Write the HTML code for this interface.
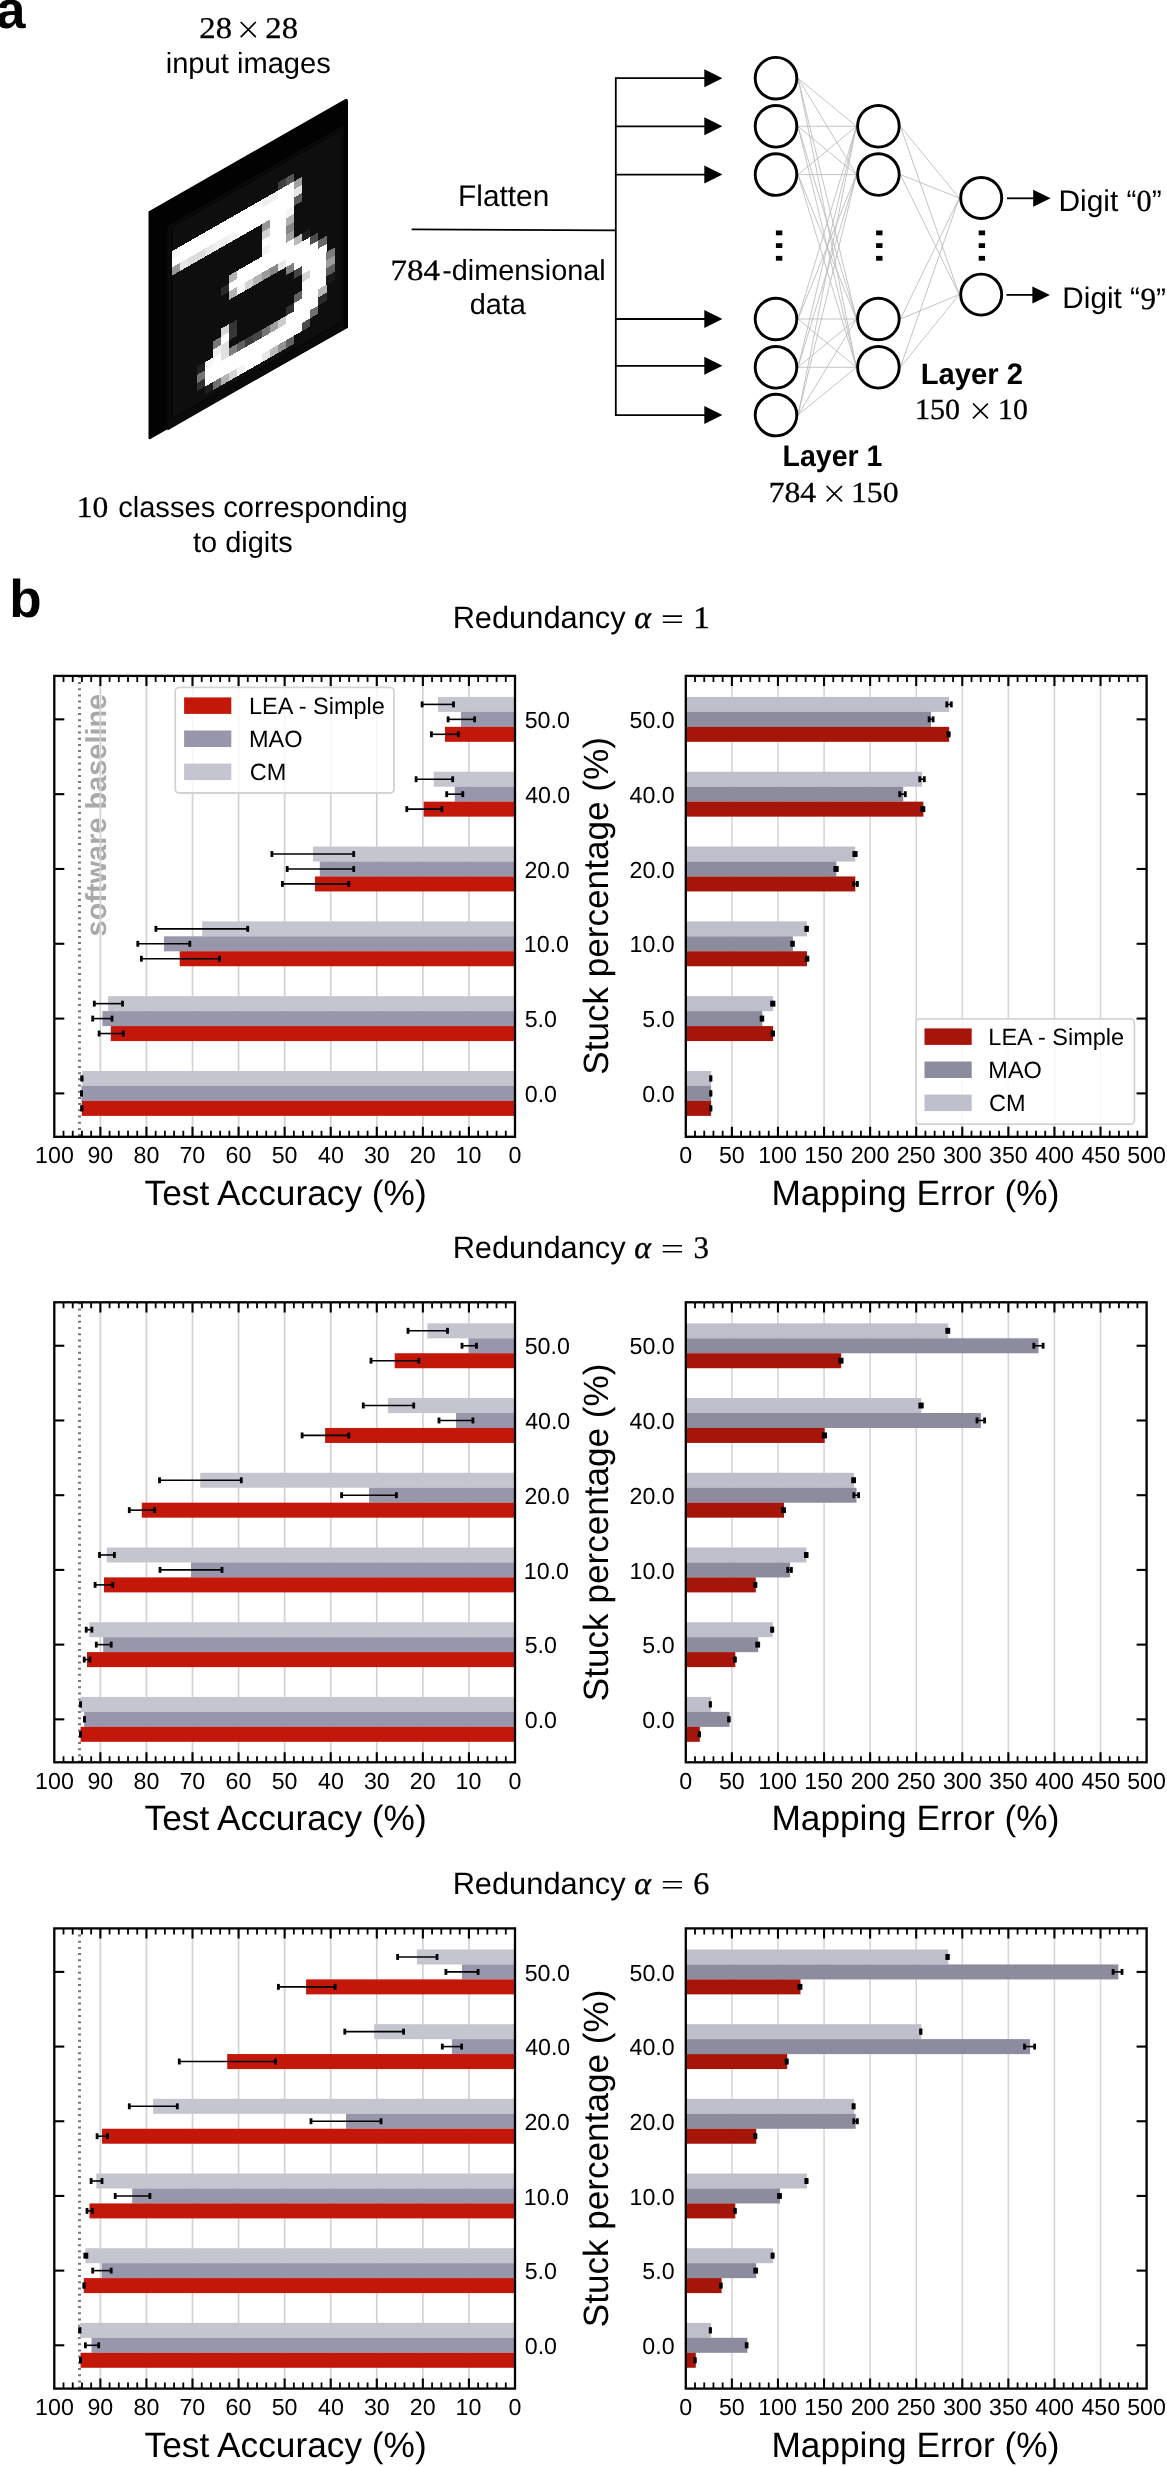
<!DOCTYPE html>
<html><head><meta charset="utf-8"><title>Figure</title>
<style>html,body{margin:0;padding:0;background:#fff}svg{display:block}text{text-rendering:geometricPrecision}</style>
</head><body>
<svg width="1167" height="2466" viewBox="0 0 1167 2466">
<rect width="1167" height="2466" fill="#fff"/>
<path d="M240.70 37.10 L255.80 22.00 M240.70 22.00 L255.80 37.10" stroke="#000" stroke-width="1.70" fill="none"/>
<path d="M973.00 418.40 L987.90 403.50 M973.00 403.50 L987.90 418.40" stroke="#000" stroke-width="1.70" fill="none"/>
<path d="M826.70 501.30 L842.00 486.00 M826.70 486.00 L842.00 501.30" stroke="#000" stroke-width="1.70" fill="none"/>
<g stroke="#000" stroke-width="1.8" fill="none">
<path d="M411.6 229.4 L615.8 230.4"/>
<path d="M615.8 77.3 V416.0"/>
<path d="M615.8 78.2 H706"/>
<path d="M615.8 126.3 H706"/>
<path d="M615.8 174.6 H706"/>
<path d="M615.8 319.0 H706"/>
<path d="M615.8 365.8 H706"/>
<path d="M615.8 415.1 H706"/>
<path d="M1007 198.3 H1035"/><path d="M1006.5 294.9 H1034"/>
</g>
<path d="M704.3 69.2 L722.4 78.2 L704.3 87.2 Z" fill="#000"/>
<path d="M704.3 117.3 L722.4 126.3 L704.3 135.3 Z" fill="#000"/>
<path d="M704.3 165.6 L722.4 174.6 L704.3 183.6 Z" fill="#000"/>
<path d="M704.3 310.0 L722.4 319.0 L704.3 328.0 Z" fill="#000"/>
<path d="M704.3 356.8 L722.4 365.8 L704.3 374.8 Z" fill="#000"/>
<path d="M704.3 406.1 L722.4 415.1 L704.3 424.1 Z" fill="#000"/>
<path d="M1033.2 189.8 L1050.6 198.3 L1033.2 206.8 Z" fill="#000"/>
<path d="M1032.4 286.4 L1049.9 294.9 L1032.4 303.4 Z" fill="#000"/>
<g stroke="#b9b9b9" stroke-width="0.85" fill="none">
<path d="M798.0 78.2 L856.4 126.3"/>
<path d="M798.0 78.2 L856.4 174.6"/>
<path d="M798.0 78.2 L856.4 319.0"/>
<path d="M798.0 78.2 L856.4 367.3"/>
<path d="M798.0 126.3 L856.4 126.3"/>
<path d="M798.0 126.3 L856.4 174.6"/>
<path d="M798.0 126.3 L856.4 319.0"/>
<path d="M798.0 126.3 L856.4 367.3"/>
<path d="M798.0 174.6 L856.4 126.3"/>
<path d="M798.0 174.6 L856.4 174.6"/>
<path d="M798.0 174.6 L856.4 319.0"/>
<path d="M798.0 174.6 L856.4 367.3"/>
<path d="M798.0 319.0 L856.4 126.3"/>
<path d="M798.0 319.0 L856.4 174.6"/>
<path d="M798.0 319.0 L856.4 319.0"/>
<path d="M798.0 319.0 L856.4 367.3"/>
<path d="M798.0 367.3 L856.4 126.3"/>
<path d="M798.0 367.3 L856.4 174.6"/>
<path d="M798.0 367.3 L856.4 319.0"/>
<path d="M798.0 367.3 L856.4 367.3"/>
<path d="M798.0 415.1 L856.4 126.3"/>
<path d="M798.0 415.1 L856.4 174.6"/>
<path d="M798.0 415.1 L856.4 319.0"/>
<path d="M798.0 415.1 L856.4 367.3"/>
<path d="M900.4 126.3 L959.2 198.0"/>
<path d="M900.4 126.3 L959.2 294.6"/>
<path d="M900.4 174.6 L959.2 198.0"/>
<path d="M900.4 174.6 L959.2 294.6"/>
<path d="M900.4 319.0 L959.2 198.0"/>
<path d="M900.4 319.0 L959.2 294.6"/>
<path d="M900.4 367.3 L959.2 198.0"/>
<path d="M900.4 367.3 L959.2 294.6"/>
</g>
<g stroke="#000" stroke-width="2.9" fill="#fff">
<circle cx="776.0" cy="78.2" r="20.8"/>
<circle cx="776.0" cy="126.3" r="20.8"/>
<circle cx="776.0" cy="174.6" r="20.8"/>
<circle cx="776.0" cy="319.0" r="20.8"/>
<circle cx="776.0" cy="367.3" r="20.8"/>
<circle cx="776.0" cy="415.1" r="20.8"/>
<circle cx="878.4" cy="126.3" r="20.8"/>
<circle cx="878.4" cy="174.6" r="20.8"/>
<circle cx="878.4" cy="319.0" r="20.8"/>
<circle cx="878.4" cy="367.3" r="20.8"/>
<circle cx="981.2" cy="198.0" r="20.5"/>
<circle cx="981.2" cy="294.6" r="20.5"/>
</g>
<rect x="775.9" y="230.5" width="6.4" height="4.8" fill="#000"/>
<rect x="775.9" y="243.2" width="6.4" height="4.8" fill="#000"/>
<rect x="775.9" y="255.9" width="6.4" height="4.8" fill="#000"/>
<rect x="876.1" y="230.5" width="6.4" height="4.8" fill="#000"/>
<rect x="876.1" y="243.2" width="6.4" height="4.8" fill="#000"/>
<rect x="876.1" y="255.9" width="6.4" height="4.8" fill="#000"/>
<rect x="978.7" y="230.5" width="6.4" height="4.8" fill="#000"/>
<rect x="978.7" y="243.2" width="6.4" height="4.8" fill="#000"/>
<rect x="978.7" y="255.9" width="6.4" height="4.8" fill="#000"/>
<path d="M148.5 211.6 L345.0 99.2 Q348.0 97.5 348.0 101.5 L348.0 327.8 L152.5 437.7 Q148.5 440.9 148.5 437.9 Z" fill="#020202"/>
<path d="M167.5 226.0 L343.5 125.3 L343.5 329.8 L167.5 430.5 Z" fill="#0a0a0a"/>
<path d="M172.2 226.7 L341.8 129.7 L341.8 321.7 L172.2 418.7 Z" fill="#0e0e0e" stroke="#050505" stroke-width="1"/>
<g transform="matrix(1 -0.5720 0 1 172.20 226.70)" shape-rendering="crispEdges">
<rect x="105.56" y="16.24" width="8.17" height="8.17" fill="rgb(63,63,63)"/>
<rect x="113.68" y="16.24" width="8.17" height="8.17" fill="rgb(87,87,87)"/>
<rect x="0.00" y="24.36" width="8.17" height="8.17" fill="rgb(245,245,245)"/>
<rect x="8.12" y="24.36" width="8.17" height="8.17" fill="rgb(255,255,255)"/>
<rect x="16.24" y="24.36" width="8.17" height="8.17" fill="rgb(255,255,255)"/>
<rect x="24.36" y="24.36" width="8.17" height="8.17" fill="rgb(255,255,255)"/>
<rect x="32.48" y="24.36" width="8.17" height="8.17" fill="rgb(255,255,255)"/>
<rect x="40.60" y="24.36" width="8.17" height="8.17" fill="rgb(255,255,255)"/>
<rect x="48.72" y="24.36" width="8.17" height="8.17" fill="rgb(255,255,255)"/>
<rect x="56.84" y="24.36" width="8.17" height="8.17" fill="rgb(255,255,255)"/>
<rect x="64.96" y="24.36" width="8.17" height="8.17" fill="rgb(255,255,255)"/>
<rect x="73.08" y="24.36" width="8.17" height="8.17" fill="rgb(255,255,255)"/>
<rect x="81.20" y="24.36" width="8.17" height="8.17" fill="rgb(255,255,255)"/>
<rect x="89.32" y="24.36" width="8.17" height="8.17" fill="rgb(239,239,239)"/>
<rect x="97.44" y="24.36" width="8.17" height="8.17" fill="rgb(240,240,240)"/>
<rect x="105.56" y="24.36" width="8.17" height="8.17" fill="rgb(255,255,255)"/>
<rect x="113.68" y="24.36" width="8.17" height="8.17" fill="rgb(255,255,255)"/>
<rect x="121.80" y="24.36" width="8.17" height="8.17" fill="rgb(160,160,160)"/>
<rect x="0.00" y="32.48" width="8.17" height="8.17" fill="rgb(255,255,255)"/>
<rect x="8.12" y="32.48" width="8.17" height="8.17" fill="rgb(255,255,255)"/>
<rect x="16.24" y="32.48" width="8.17" height="8.17" fill="rgb(255,255,255)"/>
<rect x="24.36" y="32.48" width="8.17" height="8.17" fill="rgb(255,255,255)"/>
<rect x="32.48" y="32.48" width="8.17" height="8.17" fill="rgb(255,255,255)"/>
<rect x="40.60" y="32.48" width="8.17" height="8.17" fill="rgb(255,255,255)"/>
<rect x="48.72" y="32.48" width="8.17" height="8.17" fill="rgb(255,255,255)"/>
<rect x="56.84" y="32.48" width="8.17" height="8.17" fill="rgb(255,255,255)"/>
<rect x="64.96" y="32.48" width="8.17" height="8.17" fill="rgb(255,255,255)"/>
<rect x="73.08" y="32.48" width="8.17" height="8.17" fill="rgb(255,255,255)"/>
<rect x="81.20" y="32.48" width="8.17" height="8.17" fill="rgb(255,255,255)"/>
<rect x="89.32" y="32.48" width="8.17" height="8.17" fill="rgb(255,255,255)"/>
<rect x="97.44" y="32.48" width="8.17" height="8.17" fill="rgb(255,255,255)"/>
<rect x="105.56" y="32.48" width="8.17" height="8.17" fill="rgb(255,255,255)"/>
<rect x="113.68" y="32.48" width="8.17" height="8.17" fill="rgb(255,255,255)"/>
<rect x="121.80" y="32.48" width="8.17" height="8.17" fill="rgb(230,230,230)"/>
<rect x="0.00" y="40.60" width="8.17" height="8.17" fill="rgb(153,153,153)"/>
<rect x="8.12" y="40.60" width="8.17" height="8.17" fill="rgb(230,230,230)"/>
<rect x="16.24" y="40.60" width="8.17" height="8.17" fill="rgb(220,220,220)"/>
<rect x="24.36" y="40.60" width="8.17" height="8.17" fill="rgb(220,220,220)"/>
<rect x="32.48" y="40.60" width="8.17" height="8.17" fill="rgb(231,231,231)"/>
<rect x="40.60" y="40.60" width="8.17" height="8.17" fill="rgb(239,239,239)"/>
<rect x="48.72" y="40.60" width="8.17" height="8.17" fill="rgb(239,239,239)"/>
<rect x="56.84" y="40.60" width="8.17" height="8.17" fill="rgb(245,245,245)"/>
<rect x="64.96" y="40.60" width="8.17" height="8.17" fill="rgb(255,255,255)"/>
<rect x="73.08" y="40.60" width="8.17" height="8.17" fill="rgb(255,255,255)"/>
<rect x="81.20" y="40.60" width="8.17" height="8.17" fill="rgb(255,255,255)"/>
<rect x="89.32" y="40.60" width="8.17" height="8.17" fill="rgb(255,255,255)"/>
<rect x="97.44" y="40.60" width="8.17" height="8.17" fill="rgb(255,255,255)"/>
<rect x="105.56" y="40.60" width="8.17" height="8.17" fill="rgb(255,255,255)"/>
<rect x="113.68" y="40.60" width="8.17" height="8.17" fill="rgb(255,255,255)"/>
<rect x="121.80" y="40.60" width="8.17" height="8.17" fill="rgb(93,93,93)"/>
<rect x="89.32" y="48.72" width="8.17" height="8.17" fill="rgb(149,149,149)"/>
<rect x="97.44" y="48.72" width="8.17" height="8.17" fill="rgb(255,255,255)"/>
<rect x="105.56" y="48.72" width="8.17" height="8.17" fill="rgb(255,255,255)"/>
<rect x="113.68" y="48.72" width="8.17" height="8.17" fill="rgb(245,245,245)"/>
<rect x="89.32" y="56.84" width="8.17" height="8.17" fill="rgb(212,212,212)"/>
<rect x="97.44" y="56.84" width="8.17" height="8.17" fill="rgb(255,255,255)"/>
<rect x="105.56" y="56.84" width="8.17" height="8.17" fill="rgb(255,255,255)"/>
<rect x="113.68" y="56.84" width="8.17" height="8.17" fill="rgb(175,175,175)"/>
<rect x="89.32" y="64.96" width="8.17" height="8.17" fill="rgb(252,252,252)"/>
<rect x="97.44" y="64.96" width="8.17" height="8.17" fill="rgb(255,255,255)"/>
<rect x="105.56" y="64.96" width="8.17" height="8.17" fill="rgb(255,255,255)"/>
<rect x="113.68" y="64.96" width="8.17" height="8.17" fill="rgb(133,133,133)"/>
<rect x="89.32" y="73.08" width="8.17" height="8.17" fill="rgb(243,243,243)"/>
<rect x="97.44" y="73.08" width="8.17" height="8.17" fill="rgb(255,255,255)"/>
<rect x="105.56" y="73.08" width="8.17" height="8.17" fill="rgb(255,255,255)"/>
<rect x="113.68" y="73.08" width="8.17" height="8.17" fill="rgb(159,159,159)"/>
<rect x="56.84" y="81.20" width="8.17" height="8.17" fill="rgb(179,179,179)"/>
<rect x="64.96" y="81.20" width="8.17" height="8.17" fill="rgb(255,255,255)"/>
<rect x="73.08" y="81.20" width="8.17" height="8.17" fill="rgb(255,255,255)"/>
<rect x="81.20" y="81.20" width="8.17" height="8.17" fill="rgb(255,255,255)"/>
<rect x="89.32" y="81.20" width="8.17" height="8.17" fill="rgb(255,255,255)"/>
<rect x="97.44" y="81.20" width="8.17" height="8.17" fill="rgb(255,255,255)"/>
<rect x="105.56" y="81.20" width="8.17" height="8.17" fill="rgb(255,255,255)"/>
<rect x="113.68" y="81.20" width="8.17" height="8.17" fill="rgb(255,255,255)"/>
<rect x="121.80" y="81.20" width="8.17" height="8.17" fill="rgb(187,187,187)"/>
<rect x="129.92" y="81.20" width="8.17" height="8.17" fill="rgb(30,30,30)"/>
<rect x="48.72" y="89.32" width="8.17" height="8.17" fill="rgb(42,42,42)"/>
<rect x="56.84" y="89.32" width="8.17" height="8.17" fill="rgb(255,255,255)"/>
<rect x="64.96" y="89.32" width="8.17" height="8.17" fill="rgb(255,255,255)"/>
<rect x="73.08" y="89.32" width="8.17" height="8.17" fill="rgb(255,255,255)"/>
<rect x="81.20" y="89.32" width="8.17" height="8.17" fill="rgb(255,255,255)"/>
<rect x="89.32" y="89.32" width="8.17" height="8.17" fill="rgb(255,255,255)"/>
<rect x="97.44" y="89.32" width="8.17" height="8.17" fill="rgb(255,255,255)"/>
<rect x="105.56" y="89.32" width="8.17" height="8.17" fill="rgb(255,255,255)"/>
<rect x="113.68" y="89.32" width="8.17" height="8.17" fill="rgb(255,255,255)"/>
<rect x="121.80" y="89.32" width="8.17" height="8.17" fill="rgb(255,255,255)"/>
<rect x="129.92" y="89.32" width="8.17" height="8.17" fill="rgb(255,255,255)"/>
<rect x="138.04" y="89.32" width="8.17" height="8.17" fill="rgb(77,77,77)"/>
<rect x="56.84" y="97.44" width="8.17" height="8.17" fill="rgb(179,179,179)"/>
<rect x="64.96" y="97.44" width="8.17" height="8.17" fill="rgb(249,249,249)"/>
<rect x="73.08" y="97.44" width="8.17" height="8.17" fill="rgb(212,212,212)"/>
<rect x="81.20" y="97.44" width="8.17" height="8.17" fill="rgb(181,181,181)"/>
<rect x="89.32" y="97.44" width="8.17" height="8.17" fill="rgb(153,153,153)"/>
<rect x="97.44" y="97.44" width="8.17" height="8.17" fill="rgb(135,135,135)"/>
<rect x="105.56" y="97.44" width="8.17" height="8.17" fill="rgb(233,233,233)"/>
<rect x="113.68" y="97.44" width="8.17" height="8.17" fill="rgb(255,255,255)"/>
<rect x="121.80" y="97.44" width="8.17" height="8.17" fill="rgb(255,255,255)"/>
<rect x="129.92" y="97.44" width="8.17" height="8.17" fill="rgb(255,255,255)"/>
<rect x="138.04" y="97.44" width="8.17" height="8.17" fill="rgb(255,255,255)"/>
<rect x="146.16" y="97.44" width="8.17" height="8.17" fill="rgb(104,104,104)"/>
<rect x="113.68" y="105.56" width="8.17" height="8.17" fill="rgb(127,127,127)"/>
<rect x="121.80" y="105.56" width="8.17" height="8.17" fill="rgb(255,255,255)"/>
<rect x="129.92" y="105.56" width="8.17" height="8.17" fill="rgb(255,255,255)"/>
<rect x="138.04" y="105.56" width="8.17" height="8.17" fill="rgb(255,255,255)"/>
<rect x="146.16" y="105.56" width="8.17" height="8.17" fill="rgb(255,255,255)"/>
<rect x="121.80" y="113.68" width="8.17" height="8.17" fill="rgb(68,68,68)"/>
<rect x="129.92" y="113.68" width="8.17" height="8.17" fill="rgb(255,255,255)"/>
<rect x="138.04" y="113.68" width="8.17" height="8.17" fill="rgb(255,255,255)"/>
<rect x="146.16" y="113.68" width="8.17" height="8.17" fill="rgb(255,255,255)"/>
<rect x="154.28" y="113.68" width="8.17" height="8.17" fill="rgb(123,123,123)"/>
<rect x="129.92" y="121.80" width="8.17" height="8.17" fill="rgb(211,211,211)"/>
<rect x="138.04" y="121.80" width="8.17" height="8.17" fill="rgb(255,255,255)"/>
<rect x="146.16" y="121.80" width="8.17" height="8.17" fill="rgb(255,255,255)"/>
<rect x="154.28" y="121.80" width="8.17" height="8.17" fill="rgb(156,156,156)"/>
<rect x="48.72" y="129.92" width="8.17" height="8.17" fill="rgb(216,216,216)"/>
<rect x="56.84" y="129.92" width="8.17" height="8.17" fill="rgb(52,52,52)"/>
<rect x="129.92" y="129.92" width="8.17" height="8.17" fill="rgb(255,255,255)"/>
<rect x="138.04" y="129.92" width="8.17" height="8.17" fill="rgb(255,255,255)"/>
<rect x="146.16" y="129.92" width="8.17" height="8.17" fill="rgb(255,255,255)"/>
<rect x="154.28" y="129.92" width="8.17" height="8.17" fill="rgb(94,94,94)"/>
<rect x="40.60" y="138.04" width="8.17" height="8.17" fill="rgb(120,120,120)"/>
<rect x="48.72" y="138.04" width="8.17" height="8.17" fill="rgb(255,255,255)"/>
<rect x="56.84" y="138.04" width="8.17" height="8.17" fill="rgb(55,55,55)"/>
<rect x="121.80" y="138.04" width="8.17" height="8.17" fill="rgb(99,99,99)"/>
<rect x="129.92" y="138.04" width="8.17" height="8.17" fill="rgb(255,255,255)"/>
<rect x="138.04" y="138.04" width="8.17" height="8.17" fill="rgb(255,255,255)"/>
<rect x="146.16" y="138.04" width="8.17" height="8.17" fill="rgb(255,255,255)"/>
<rect x="154.28" y="138.04" width="8.17" height="8.17" fill="rgb(25,25,25)"/>
<rect x="40.60" y="146.16" width="8.17" height="8.17" fill="rgb(240,240,240)"/>
<rect x="48.72" y="146.16" width="8.17" height="8.17" fill="rgb(223,223,223)"/>
<rect x="113.68" y="146.16" width="8.17" height="8.17" fill="rgb(49,49,49)"/>
<rect x="121.80" y="146.16" width="8.17" height="8.17" fill="rgb(255,255,255)"/>
<rect x="129.92" y="146.16" width="8.17" height="8.17" fill="rgb(255,255,255)"/>
<rect x="138.04" y="146.16" width="8.17" height="8.17" fill="rgb(255,255,255)"/>
<rect x="146.16" y="146.16" width="8.17" height="8.17" fill="rgb(182,182,182)"/>
<rect x="24.36" y="154.28" width="8.17" height="8.17" fill="rgb(31,31,31)"/>
<rect x="32.48" y="154.28" width="8.17" height="8.17" fill="rgb(247,247,247)"/>
<rect x="40.60" y="154.28" width="8.17" height="8.17" fill="rgb(255,255,255)"/>
<rect x="48.72" y="154.28" width="8.17" height="8.17" fill="rgb(226,226,226)"/>
<rect x="56.84" y="154.28" width="8.17" height="8.17" fill="rgb(126,126,126)"/>
<rect x="64.96" y="154.28" width="8.17" height="8.17" fill="rgb(96,96,96)"/>
<rect x="73.08" y="154.28" width="8.17" height="8.17" fill="rgb(62,62,62)"/>
<rect x="81.20" y="154.28" width="8.17" height="8.17" fill="rgb(71,71,71)"/>
<rect x="89.32" y="154.28" width="8.17" height="8.17" fill="rgb(117,117,117)"/>
<rect x="97.44" y="154.28" width="8.17" height="8.17" fill="rgb(161,161,161)"/>
<rect x="105.56" y="154.28" width="8.17" height="8.17" fill="rgb(204,204,204)"/>
<rect x="113.68" y="154.28" width="8.17" height="8.17" fill="rgb(255,255,255)"/>
<rect x="121.80" y="154.28" width="8.17" height="8.17" fill="rgb(255,255,255)"/>
<rect x="129.92" y="154.28" width="8.17" height="8.17" fill="rgb(255,255,255)"/>
<rect x="138.04" y="154.28" width="8.17" height="8.17" fill="rgb(255,255,255)"/>
<rect x="146.16" y="154.28" width="8.17" height="8.17" fill="rgb(43,43,43)"/>
<rect x="24.36" y="162.40" width="8.17" height="8.17" fill="rgb(117,117,117)"/>
<rect x="32.48" y="162.40" width="8.17" height="8.17" fill="rgb(255,255,255)"/>
<rect x="40.60" y="162.40" width="8.17" height="8.17" fill="rgb(255,255,255)"/>
<rect x="48.72" y="162.40" width="8.17" height="8.17" fill="rgb(255,255,255)"/>
<rect x="56.84" y="162.40" width="8.17" height="8.17" fill="rgb(255,255,255)"/>
<rect x="64.96" y="162.40" width="8.17" height="8.17" fill="rgb(255,255,255)"/>
<rect x="73.08" y="162.40" width="8.17" height="8.17" fill="rgb(255,255,255)"/>
<rect x="81.20" y="162.40" width="8.17" height="8.17" fill="rgb(255,255,255)"/>
<rect x="89.32" y="162.40" width="8.17" height="8.17" fill="rgb(255,255,255)"/>
<rect x="97.44" y="162.40" width="8.17" height="8.17" fill="rgb(255,255,255)"/>
<rect x="105.56" y="162.40" width="8.17" height="8.17" fill="rgb(255,255,255)"/>
<rect x="113.68" y="162.40" width="8.17" height="8.17" fill="rgb(255,255,255)"/>
<rect x="121.80" y="162.40" width="8.17" height="8.17" fill="rgb(255,255,255)"/>
<rect x="129.92" y="162.40" width="8.17" height="8.17" fill="rgb(255,255,255)"/>
<rect x="138.04" y="162.40" width="8.17" height="8.17" fill="rgb(110,110,110)"/>
<rect x="24.36" y="170.52" width="8.17" height="8.17" fill="rgb(48,48,48)"/>
<rect x="32.48" y="170.52" width="8.17" height="8.17" fill="rgb(255,255,255)"/>
<rect x="40.60" y="170.52" width="8.17" height="8.17" fill="rgb(255,255,255)"/>
<rect x="48.72" y="170.52" width="8.17" height="8.17" fill="rgb(255,255,255)"/>
<rect x="56.84" y="170.52" width="8.17" height="8.17" fill="rgb(255,255,255)"/>
<rect x="64.96" y="170.52" width="8.17" height="8.17" fill="rgb(255,255,255)"/>
<rect x="73.08" y="170.52" width="8.17" height="8.17" fill="rgb(255,255,255)"/>
<rect x="81.20" y="170.52" width="8.17" height="8.17" fill="rgb(255,255,255)"/>
<rect x="89.32" y="170.52" width="8.17" height="8.17" fill="rgb(255,255,255)"/>
<rect x="97.44" y="170.52" width="8.17" height="8.17" fill="rgb(255,255,255)"/>
<rect x="105.56" y="170.52" width="8.17" height="8.17" fill="rgb(255,255,255)"/>
<rect x="113.68" y="170.52" width="8.17" height="8.17" fill="rgb(255,255,255)"/>
<rect x="121.80" y="170.52" width="8.17" height="8.17" fill="rgb(255,255,255)"/>
<rect x="129.92" y="170.52" width="8.17" height="8.17" fill="rgb(75,75,75)"/>
<rect x="32.48" y="178.64" width="8.17" height="8.17" fill="rgb(29,29,29)"/>
<rect x="40.60" y="178.64" width="8.17" height="8.17" fill="rgb(113,113,113)"/>
<rect x="48.72" y="178.64" width="8.17" height="8.17" fill="rgb(179,179,179)"/>
<rect x="56.84" y="178.64" width="8.17" height="8.17" fill="rgb(212,212,212)"/>
<rect x="64.96" y="178.64" width="8.17" height="8.17" fill="rgb(244,244,244)"/>
<rect x="73.08" y="178.64" width="8.17" height="8.17" fill="rgb(255,255,255)"/>
<rect x="81.20" y="178.64" width="8.17" height="8.17" fill="rgb(255,255,255)"/>
<rect x="89.32" y="178.64" width="8.17" height="8.17" fill="rgb(231,231,231)"/>
<rect x="97.44" y="178.64" width="8.17" height="8.17" fill="rgb(186,186,186)"/>
<rect x="105.56" y="178.64" width="8.17" height="8.17" fill="rgb(145,145,145)"/>
<rect x="113.68" y="178.64" width="8.17" height="8.17" fill="rgb(99,99,99)"/>
</g>
<path d="M662.8 616.10 H682 M662.8 622.20 H682" stroke="#000" stroke-width="1.6" fill="none"/>
<path d="M662.8 1245.70 H682 M662.8 1251.80 H682" stroke="#000" stroke-width="1.6" fill="none"/>
<path d="M662.8 1881.70 H682 M662.8 1887.80 H682" stroke="#000" stroke-width="1.6" fill="none"/>
<g style="filter:grayscale(1)"><text transform="translate(106.00 936.41) rotate(-90)" font-family='"Liberation Sans", sans-serif' font-weight="bold" font-size="28.92" fill="#a9a9a9">software baseline</text></g>
<g stroke="#d2d2d2" stroke-width="1.7">
<path d="M100.37 675.9 V1136.8"/>
<path d="M146.44 675.9 V1136.8"/>
<path d="M192.51 675.9 V1136.8"/>
<path d="M238.58 675.9 V1136.8"/>
<path d="M284.65 675.9 V1136.8"/>
<path d="M330.72 675.9 V1136.8"/>
<path d="M376.79 675.9 V1136.8"/>
<path d="M422.86 675.9 V1136.8"/>
<path d="M468.93 675.9 V1136.8"/>
</g>
<path d="M79.5 675.80 V1136.8" stroke="#7a7a7a" stroke-width="3" stroke-dasharray="2 4.193"/>
<rect x="438.0" y="696.93" width="77.0" height="15.00" fill="#c5c5d0"/>
<rect x="461.0" y="711.88" width="54.0" height="15.00" fill="#9896aa"/>
<rect x="445.0" y="726.83" width="70.0" height="15.00" fill="#c3170a"/>
<rect x="433.8" y="771.74" width="81.2" height="15.00" fill="#c5c5d0"/>
<rect x="454.8" y="786.69" width="60.2" height="15.00" fill="#9896aa"/>
<rect x="423.7" y="801.64" width="91.3" height="15.00" fill="#c3170a"/>
<rect x="313.0" y="846.55" width="202.0" height="15.00" fill="#c5c5d0"/>
<rect x="319.8" y="861.50" width="195.2" height="15.00" fill="#9896aa"/>
<rect x="315.0" y="876.45" width="200.0" height="15.00" fill="#c3170a"/>
<rect x="202.2" y="921.36" width="312.8" height="15.00" fill="#c5c5d0"/>
<rect x="164.0" y="936.31" width="351.0" height="15.00" fill="#9896aa"/>
<rect x="179.7" y="951.25" width="335.3" height="15.00" fill="#c3170a"/>
<rect x="108.0" y="996.17" width="407.0" height="15.00" fill="#c5c5d0"/>
<rect x="102.4" y="1011.12" width="412.6" height="15.00" fill="#9896aa"/>
<rect x="110.8" y="1026.07" width="404.2" height="15.00" fill="#c3170a"/>
<rect x="82.2" y="1070.98" width="432.8" height="15.00" fill="#c5c5d0"/>
<rect x="81.4" y="1085.93" width="433.6" height="15.00" fill="#9896aa"/>
<rect x="81.8" y="1100.88" width="433.2" height="15.00" fill="#c3170a"/>
<path d="M422.10 704.40 H453.50" stroke="#000" stroke-width="1.6"/>
<rect x="420.70" y="701.45" width="2.80" height="5.9" fill="#000"/>
<rect x="452.10" y="701.45" width="2.80" height="5.9" fill="#000"/>
<path d="M448.10 719.35 H474.60" stroke="#000" stroke-width="1.6"/>
<rect x="446.70" y="716.40" width="2.80" height="5.9" fill="#000"/>
<rect x="473.20" y="716.40" width="2.80" height="5.9" fill="#000"/>
<path d="M431.40 734.30 H458.40" stroke="#000" stroke-width="1.6"/>
<rect x="430.00" y="731.35" width="2.80" height="5.9" fill="#000"/>
<rect x="457.00" y="731.35" width="2.80" height="5.9" fill="#000"/>
<path d="M416.10 779.21 H452.70" stroke="#000" stroke-width="1.6"/>
<rect x="414.70" y="776.26" width="2.80" height="5.9" fill="#000"/>
<rect x="451.30" y="776.26" width="2.80" height="5.9" fill="#000"/>
<path d="M446.70 794.16 H462.80" stroke="#000" stroke-width="1.6"/>
<rect x="445.30" y="791.21" width="2.80" height="5.9" fill="#000"/>
<rect x="461.40" y="791.21" width="2.80" height="5.9" fill="#000"/>
<path d="M406.80 809.11 H441.90" stroke="#000" stroke-width="1.6"/>
<rect x="405.40" y="806.16" width="2.80" height="5.9" fill="#000"/>
<rect x="440.50" y="806.16" width="2.80" height="5.9" fill="#000"/>
<path d="M271.90 854.02 H353.70" stroke="#000" stroke-width="1.6"/>
<rect x="270.50" y="851.07" width="2.80" height="5.9" fill="#000"/>
<rect x="352.30" y="851.07" width="2.80" height="5.9" fill="#000"/>
<path d="M287.20 868.97 H353.70" stroke="#000" stroke-width="1.6"/>
<rect x="285.80" y="866.02" width="2.80" height="5.9" fill="#000"/>
<rect x="352.30" y="866.02" width="2.80" height="5.9" fill="#000"/>
<path d="M282.40 883.92 H348.80" stroke="#000" stroke-width="1.6"/>
<rect x="281.00" y="880.97" width="2.80" height="5.9" fill="#000"/>
<rect x="347.40" y="880.97" width="2.80" height="5.9" fill="#000"/>
<path d="M155.90 928.83 H247.70" stroke="#000" stroke-width="1.6"/>
<rect x="154.50" y="925.88" width="2.80" height="5.9" fill="#000"/>
<rect x="246.30" y="925.88" width="2.80" height="5.9" fill="#000"/>
<path d="M137.80 943.78 H189.80" stroke="#000" stroke-width="1.6"/>
<rect x="136.40" y="940.83" width="2.80" height="5.9" fill="#000"/>
<rect x="188.40" y="940.83" width="2.80" height="5.9" fill="#000"/>
<path d="M141.40 958.73 H219.60" stroke="#000" stroke-width="1.6"/>
<rect x="140.00" y="955.78" width="2.80" height="5.9" fill="#000"/>
<rect x="218.20" y="955.78" width="2.80" height="5.9" fill="#000"/>
<path d="M94.30 1003.64 H122.50" stroke="#000" stroke-width="1.6"/>
<rect x="92.90" y="1000.69" width="2.80" height="5.9" fill="#000"/>
<rect x="121.10" y="1000.69" width="2.80" height="5.9" fill="#000"/>
<path d="M92.70 1018.59 H112.00" stroke="#000" stroke-width="1.6"/>
<rect x="91.30" y="1015.64" width="2.80" height="5.9" fill="#000"/>
<rect x="110.60" y="1015.64" width="2.80" height="5.9" fill="#000"/>
<path d="M99.10 1033.54 H123.30" stroke="#000" stroke-width="1.6"/>
<rect x="97.70" y="1030.59" width="2.80" height="5.9" fill="#000"/>
<rect x="121.90" y="1030.59" width="2.80" height="5.9" fill="#000"/>
<path d="M81.90 1078.45 H81.90" stroke="#000" stroke-width="1.6"/>
<rect x="80.50" y="1075.50" width="2.80" height="5.9" fill="#000"/>
<rect x="80.50" y="1075.50" width="2.80" height="5.9" fill="#000"/>
<path d="M81.50 1093.40 H81.50" stroke="#000" stroke-width="1.6"/>
<rect x="80.10" y="1090.45" width="2.80" height="5.9" fill="#000"/>
<rect x="80.10" y="1090.45" width="2.80" height="5.9" fill="#000"/>
<path d="M81.80 1108.35 H81.80" stroke="#000" stroke-width="1.6"/>
<rect x="80.40" y="1105.40" width="2.80" height="5.9" fill="#000"/>
<rect x="80.40" y="1105.40" width="2.80" height="5.9" fill="#000"/>
<rect x="175.2" y="687.4" width="218.8" height="105.6" rx="4" ry="4" fill="#fff" fill-opacity="0.82" stroke="#d3d3d3" stroke-width="1.8"/>
<rect x="184.1" y="697.4" width="47.2" height="16.5" fill="#c3170a"/>
<rect x="184.1" y="730.5" width="47.2" height="16.5" fill="#9896aa"/>
<rect x="184.1" y="763.6" width="47.2" height="16.5" fill="#c5c5d0"/>
<g stroke="#000" fill="none">
<path d="M63.51 675.9 v6.0 M63.51 1136.8 v-6.0" stroke-width="1.8"/>
<path d="M72.73 675.9 v6.0 M72.73 1136.8 v-6.0" stroke-width="1.8"/>
<path d="M81.94 675.9 v6.0 M81.94 1136.8 v-6.0" stroke-width="1.8"/>
<path d="M91.16 675.9 v6.0 M91.16 1136.8 v-6.0" stroke-width="1.8"/>
<path d="M100.37 675.9 v10.1 M100.37 1136.8 v-10.1" stroke-width="2.1"/>
<path d="M109.58 675.9 v6.0 M109.58 1136.8 v-6.0" stroke-width="1.8"/>
<path d="M118.80 675.9 v6.0 M118.80 1136.8 v-6.0" stroke-width="1.8"/>
<path d="M128.01 675.9 v6.0 M128.01 1136.8 v-6.0" stroke-width="1.8"/>
<path d="M137.23 675.9 v6.0 M137.23 1136.8 v-6.0" stroke-width="1.8"/>
<path d="M146.44 675.9 v10.1 M146.44 1136.8 v-10.1" stroke-width="2.1"/>
<path d="M155.65 675.9 v6.0 M155.65 1136.8 v-6.0" stroke-width="1.8"/>
<path d="M164.87 675.9 v6.0 M164.87 1136.8 v-6.0" stroke-width="1.8"/>
<path d="M174.08 675.9 v6.0 M174.08 1136.8 v-6.0" stroke-width="1.8"/>
<path d="M183.30 675.9 v6.0 M183.30 1136.8 v-6.0" stroke-width="1.8"/>
<path d="M192.51 675.9 v10.1 M192.51 1136.8 v-10.1" stroke-width="2.1"/>
<path d="M201.72 675.9 v6.0 M201.72 1136.8 v-6.0" stroke-width="1.8"/>
<path d="M210.94 675.9 v6.0 M210.94 1136.8 v-6.0" stroke-width="1.8"/>
<path d="M220.15 675.9 v6.0 M220.15 1136.8 v-6.0" stroke-width="1.8"/>
<path d="M229.37 675.9 v6.0 M229.37 1136.8 v-6.0" stroke-width="1.8"/>
<path d="M238.58 675.9 v10.1 M238.58 1136.8 v-10.1" stroke-width="2.1"/>
<path d="M247.79 675.9 v6.0 M247.79 1136.8 v-6.0" stroke-width="1.8"/>
<path d="M257.01 675.9 v6.0 M257.01 1136.8 v-6.0" stroke-width="1.8"/>
<path d="M266.22 675.9 v6.0 M266.22 1136.8 v-6.0" stroke-width="1.8"/>
<path d="M275.44 675.9 v6.0 M275.44 1136.8 v-6.0" stroke-width="1.8"/>
<path d="M284.65 675.9 v10.1 M284.65 1136.8 v-10.1" stroke-width="2.1"/>
<path d="M293.86 675.9 v6.0 M293.86 1136.8 v-6.0" stroke-width="1.8"/>
<path d="M303.08 675.9 v6.0 M303.08 1136.8 v-6.0" stroke-width="1.8"/>
<path d="M312.29 675.9 v6.0 M312.29 1136.8 v-6.0" stroke-width="1.8"/>
<path d="M321.51 675.9 v6.0 M321.51 1136.8 v-6.0" stroke-width="1.8"/>
<path d="M330.72 675.9 v10.1 M330.72 1136.8 v-10.1" stroke-width="2.1"/>
<path d="M339.93 675.9 v6.0 M339.93 1136.8 v-6.0" stroke-width="1.8"/>
<path d="M349.15 675.9 v6.0 M349.15 1136.8 v-6.0" stroke-width="1.8"/>
<path d="M358.36 675.9 v6.0 M358.36 1136.8 v-6.0" stroke-width="1.8"/>
<path d="M367.58 675.9 v6.0 M367.58 1136.8 v-6.0" stroke-width="1.8"/>
<path d="M376.79 675.9 v10.1 M376.79 1136.8 v-10.1" stroke-width="2.1"/>
<path d="M386.00 675.9 v6.0 M386.00 1136.8 v-6.0" stroke-width="1.8"/>
<path d="M395.22 675.9 v6.0 M395.22 1136.8 v-6.0" stroke-width="1.8"/>
<path d="M404.43 675.9 v6.0 M404.43 1136.8 v-6.0" stroke-width="1.8"/>
<path d="M413.65 675.9 v6.0 M413.65 1136.8 v-6.0" stroke-width="1.8"/>
<path d="M422.86 675.9 v10.1 M422.86 1136.8 v-10.1" stroke-width="2.1"/>
<path d="M432.07 675.9 v6.0 M432.07 1136.8 v-6.0" stroke-width="1.8"/>
<path d="M441.29 675.9 v6.0 M441.29 1136.8 v-6.0" stroke-width="1.8"/>
<path d="M450.50 675.9 v6.0 M450.50 1136.8 v-6.0" stroke-width="1.8"/>
<path d="M459.72 675.9 v6.0 M459.72 1136.8 v-6.0" stroke-width="1.8"/>
<path d="M468.93 675.9 v10.1 M468.93 1136.8 v-10.1" stroke-width="2.1"/>
<path d="M478.14 675.9 v6.0 M478.14 1136.8 v-6.0" stroke-width="1.8"/>
<path d="M487.36 675.9 v6.0 M487.36 1136.8 v-6.0" stroke-width="1.8"/>
<path d="M496.57 675.9 v6.0 M496.57 1136.8 v-6.0" stroke-width="1.8"/>
<path d="M505.79 675.9 v6.0 M505.79 1136.8 v-6.0" stroke-width="1.8"/>
<path d="M54.3 719.35 h10.0" stroke-width="2.1"/>
<path d="M54.3 794.16 h10.0" stroke-width="2.1"/>
<path d="M54.3 868.97 h10.0" stroke-width="2.1"/>
<path d="M54.3 943.78 h10.0" stroke-width="2.1"/>
<path d="M54.3 1018.59 h10.0" stroke-width="2.1"/>
<path d="M54.3 1093.40 h10.0" stroke-width="2.1"/>
<rect x="54.3" y="675.9" width="460.7" height="460.9" stroke-width="2.3"/>
</g>
<g stroke="#d6d6d6" stroke-width="1.6">
<path d="M731.88 675.9 V1136.8"/>
<path d="M777.96 675.9 V1136.8"/>
<path d="M824.04 675.9 V1136.8"/>
<path d="M870.12 675.9 V1136.8"/>
<path d="M916.20 675.9 V1136.8"/>
<path d="M962.28 675.9 V1136.8"/>
<path d="M1008.36 675.9 V1136.8"/>
<path d="M1054.44 675.9 V1136.8"/>
<path d="M1100.52 675.9 V1136.8"/>
</g>
<rect x="685.8" y="696.93" width="263.3" height="15.00" fill="#bfbfcb"/>
<rect x="685.8" y="711.88" width="245.2" height="15.00" fill="#8d8c9f"/>
<rect x="685.8" y="726.83" width="263.3" height="15.00" fill="#a5150a"/>
<rect x="685.8" y="771.74" width="236.3" height="15.00" fill="#bfbfcb"/>
<rect x="685.8" y="786.69" width="217.4" height="15.00" fill="#8d8c9f"/>
<rect x="685.8" y="801.64" width="237.6" height="15.00" fill="#a5150a"/>
<rect x="685.8" y="846.55" width="169.5" height="15.00" fill="#bfbfcb"/>
<rect x="685.8" y="861.50" width="150.6" height="15.00" fill="#8d8c9f"/>
<rect x="685.8" y="876.45" width="169.5" height="15.00" fill="#a5150a"/>
<rect x="685.8" y="921.36" width="121.2" height="15.00" fill="#bfbfcb"/>
<rect x="685.8" y="936.31" width="107.1" height="15.00" fill="#8d8c9f"/>
<rect x="685.8" y="951.25" width="121.2" height="15.00" fill="#a5150a"/>
<rect x="685.8" y="996.17" width="87.3" height="15.00" fill="#bfbfcb"/>
<rect x="685.8" y="1011.12" width="76.5" height="15.00" fill="#8d8c9f"/>
<rect x="685.8" y="1026.07" width="87.3" height="15.00" fill="#a5150a"/>
<rect x="685.8" y="1070.98" width="25.3" height="15.00" fill="#bfbfcb"/>
<rect x="685.8" y="1085.93" width="25.3" height="15.00" fill="#8d8c9f"/>
<rect x="685.8" y="1100.88" width="25.3" height="15.00" fill="#a5150a"/>
<path d="M946.80 704.40 H951.30" stroke="#000" stroke-width="1.6"/>
<rect x="945.40" y="701.45" width="2.80" height="5.9" fill="#000"/>
<rect x="949.90" y="701.45" width="2.80" height="5.9" fill="#000"/>
<path d="M929.10 719.35 H933.10" stroke="#000" stroke-width="1.6"/>
<rect x="927.70" y="716.40" width="2.80" height="5.9" fill="#000"/>
<rect x="931.70" y="716.40" width="2.80" height="5.9" fill="#000"/>
<path d="M948.00 734.30 H949.20" stroke="#000" stroke-width="1.6"/>
<rect x="946.60" y="731.35" width="2.80" height="5.9" fill="#000"/>
<rect x="947.80" y="731.35" width="2.80" height="5.9" fill="#000"/>
<path d="M919.80 779.21 H924.30" stroke="#000" stroke-width="1.6"/>
<rect x="918.40" y="776.26" width="2.80" height="5.9" fill="#000"/>
<rect x="922.90" y="776.26" width="2.80" height="5.9" fill="#000"/>
<path d="M899.70 794.16 H905.30" stroke="#000" stroke-width="1.6"/>
<rect x="898.30" y="791.21" width="2.80" height="5.9" fill="#000"/>
<rect x="903.90" y="791.21" width="2.80" height="5.9" fill="#000"/>
<path d="M921.80 809.11 H923.90" stroke="#000" stroke-width="1.6"/>
<rect x="920.40" y="806.16" width="2.80" height="5.9" fill="#000"/>
<rect x="922.50" y="806.16" width="2.80" height="5.9" fill="#000"/>
<path d="M853.80 854.02 H856.20" stroke="#000" stroke-width="1.6"/>
<rect x="852.40" y="851.07" width="2.80" height="5.9" fill="#000"/>
<rect x="854.80" y="851.07" width="2.80" height="5.9" fill="#000"/>
<path d="M834.80 868.97 H837.30" stroke="#000" stroke-width="1.6"/>
<rect x="833.40" y="866.02" width="2.80" height="5.9" fill="#000"/>
<rect x="835.90" y="866.02" width="2.80" height="5.9" fill="#000"/>
<path d="M853.80 883.92 H857.40" stroke="#000" stroke-width="1.6"/>
<rect x="852.40" y="880.97" width="2.80" height="5.9" fill="#000"/>
<rect x="856.00" y="880.97" width="2.80" height="5.9" fill="#000"/>
<path d="M805.80 928.83 H807.50" stroke="#000" stroke-width="1.6"/>
<rect x="804.40" y="925.88" width="2.80" height="5.9" fill="#000"/>
<rect x="806.10" y="925.88" width="2.80" height="5.9" fill="#000"/>
<path d="M791.70 943.78 H793.40" stroke="#000" stroke-width="1.6"/>
<rect x="790.30" y="940.83" width="2.80" height="5.9" fill="#000"/>
<rect x="792.00" y="940.83" width="2.80" height="5.9" fill="#000"/>
<path d="M806.20 958.73 H807.90" stroke="#000" stroke-width="1.6"/>
<rect x="804.80" y="955.78" width="2.80" height="5.9" fill="#000"/>
<rect x="806.50" y="955.78" width="2.80" height="5.9" fill="#000"/>
<path d="M771.60 1003.64 H774.00" stroke="#000" stroke-width="1.6"/>
<rect x="770.20" y="1000.69" width="2.80" height="5.9" fill="#000"/>
<rect x="772.60" y="1000.69" width="2.80" height="5.9" fill="#000"/>
<path d="M761.10 1018.59 H762.80" stroke="#000" stroke-width="1.6"/>
<rect x="759.70" y="1015.64" width="2.80" height="5.9" fill="#000"/>
<rect x="761.40" y="1015.64" width="2.80" height="5.9" fill="#000"/>
<path d="M772.00 1033.54 H773.60" stroke="#000" stroke-width="1.6"/>
<rect x="770.60" y="1030.59" width="2.80" height="5.9" fill="#000"/>
<rect x="772.20" y="1030.59" width="2.80" height="5.9" fill="#000"/>
<path d="M710.80 1078.45 H710.80" stroke="#000" stroke-width="1.6"/>
<rect x="709.40" y="1075.50" width="2.80" height="5.9" fill="#000"/>
<rect x="709.40" y="1075.50" width="2.80" height="5.9" fill="#000"/>
<path d="M710.80 1093.40 H710.80" stroke="#000" stroke-width="1.6"/>
<rect x="709.40" y="1090.45" width="2.80" height="5.9" fill="#000"/>
<rect x="709.40" y="1090.45" width="2.80" height="5.9" fill="#000"/>
<path d="M710.80 1108.35 H710.80" stroke="#000" stroke-width="1.6"/>
<rect x="709.40" y="1105.40" width="2.80" height="5.9" fill="#000"/>
<rect x="709.40" y="1105.40" width="2.80" height="5.9" fill="#000"/>
<rect x="916.0" y="1018.8" width="218.4" height="105.4" rx="4" ry="4" fill="#fff" fill-opacity="0.82" stroke="#d3d3d3" stroke-width="1.8"/>
<rect x="924.5" y="1028.4" width="47.2" height="16.5" fill="#a5150a"/>
<rect x="924.5" y="1061.5" width="47.2" height="16.5" fill="#8d8c9f"/>
<rect x="924.5" y="1094.6" width="47.2" height="16.5" fill="#bfbfcb"/>
<g stroke="#000" fill="none">
<path d="M695.02 675.9 v6.0 M695.02 1136.8 v-6.0" stroke-width="1.8"/>
<path d="M704.23 675.9 v6.0 M704.23 1136.8 v-6.0" stroke-width="1.8"/>
<path d="M713.45 675.9 v6.0 M713.45 1136.8 v-6.0" stroke-width="1.8"/>
<path d="M722.66 675.9 v6.0 M722.66 1136.8 v-6.0" stroke-width="1.8"/>
<path d="M731.88 675.9 v10.1 M731.88 1136.8 v-10.1" stroke-width="2.1"/>
<path d="M741.10 675.9 v6.0 M741.10 1136.8 v-6.0" stroke-width="1.8"/>
<path d="M750.31 675.9 v6.0 M750.31 1136.8 v-6.0" stroke-width="1.8"/>
<path d="M759.53 675.9 v6.0 M759.53 1136.8 v-6.0" stroke-width="1.8"/>
<path d="M768.74 675.9 v6.0 M768.74 1136.8 v-6.0" stroke-width="1.8"/>
<path d="M777.96 675.9 v10.1 M777.96 1136.8 v-10.1" stroke-width="2.1"/>
<path d="M787.18 675.9 v6.0 M787.18 1136.8 v-6.0" stroke-width="1.8"/>
<path d="M796.39 675.9 v6.0 M796.39 1136.8 v-6.0" stroke-width="1.8"/>
<path d="M805.61 675.9 v6.0 M805.61 1136.8 v-6.0" stroke-width="1.8"/>
<path d="M814.82 675.9 v6.0 M814.82 1136.8 v-6.0" stroke-width="1.8"/>
<path d="M824.04 675.9 v10.1 M824.04 1136.8 v-10.1" stroke-width="2.1"/>
<path d="M833.26 675.9 v6.0 M833.26 1136.8 v-6.0" stroke-width="1.8"/>
<path d="M842.47 675.9 v6.0 M842.47 1136.8 v-6.0" stroke-width="1.8"/>
<path d="M851.69 675.9 v6.0 M851.69 1136.8 v-6.0" stroke-width="1.8"/>
<path d="M860.90 675.9 v6.0 M860.90 1136.8 v-6.0" stroke-width="1.8"/>
<path d="M870.12 675.9 v10.1 M870.12 1136.8 v-10.1" stroke-width="2.1"/>
<path d="M879.34 675.9 v6.0 M879.34 1136.8 v-6.0" stroke-width="1.8"/>
<path d="M888.55 675.9 v6.0 M888.55 1136.8 v-6.0" stroke-width="1.8"/>
<path d="M897.77 675.9 v6.0 M897.77 1136.8 v-6.0" stroke-width="1.8"/>
<path d="M906.98 675.9 v6.0 M906.98 1136.8 v-6.0" stroke-width="1.8"/>
<path d="M916.20 675.9 v10.1 M916.20 1136.8 v-10.1" stroke-width="2.1"/>
<path d="M925.42 675.9 v6.0 M925.42 1136.8 v-6.0" stroke-width="1.8"/>
<path d="M934.63 675.9 v6.0 M934.63 1136.8 v-6.0" stroke-width="1.8"/>
<path d="M943.85 675.9 v6.0 M943.85 1136.8 v-6.0" stroke-width="1.8"/>
<path d="M953.06 675.9 v6.0 M953.06 1136.8 v-6.0" stroke-width="1.8"/>
<path d="M962.28 675.9 v10.1 M962.28 1136.8 v-10.1" stroke-width="2.1"/>
<path d="M971.50 675.9 v6.0 M971.50 1136.8 v-6.0" stroke-width="1.8"/>
<path d="M980.71 675.9 v6.0 M980.71 1136.8 v-6.0" stroke-width="1.8"/>
<path d="M989.93 675.9 v6.0 M989.93 1136.8 v-6.0" stroke-width="1.8"/>
<path d="M999.14 675.9 v6.0 M999.14 1136.8 v-6.0" stroke-width="1.8"/>
<path d="M1008.36 675.9 v10.1 M1008.36 1136.8 v-10.1" stroke-width="2.1"/>
<path d="M1017.58 675.9 v6.0 M1017.58 1136.8 v-6.0" stroke-width="1.8"/>
<path d="M1026.79 675.9 v6.0 M1026.79 1136.8 v-6.0" stroke-width="1.8"/>
<path d="M1036.01 675.9 v6.0 M1036.01 1136.8 v-6.0" stroke-width="1.8"/>
<path d="M1045.22 675.9 v6.0 M1045.22 1136.8 v-6.0" stroke-width="1.8"/>
<path d="M1054.44 675.9 v10.1 M1054.44 1136.8 v-10.1" stroke-width="2.1"/>
<path d="M1063.66 675.9 v6.0 M1063.66 1136.8 v-6.0" stroke-width="1.8"/>
<path d="M1072.87 675.9 v6.0 M1072.87 1136.8 v-6.0" stroke-width="1.8"/>
<path d="M1082.09 675.9 v6.0 M1082.09 1136.8 v-6.0" stroke-width="1.8"/>
<path d="M1091.30 675.9 v6.0 M1091.30 1136.8 v-6.0" stroke-width="1.8"/>
<path d="M1100.52 675.9 v10.1 M1100.52 1136.8 v-10.1" stroke-width="2.1"/>
<path d="M1109.74 675.9 v6.0 M1109.74 1136.8 v-6.0" stroke-width="1.8"/>
<path d="M1118.95 675.9 v6.0 M1118.95 1136.8 v-6.0" stroke-width="1.8"/>
<path d="M1128.17 675.9 v6.0 M1128.17 1136.8 v-6.0" stroke-width="1.8"/>
<path d="M1137.38 675.9 v6.0 M1137.38 1136.8 v-6.0" stroke-width="1.8"/>
<path d="M1146.6 719.35 h-10.0" stroke-width="2.1"/>
<path d="M1146.6 794.16 h-10.0" stroke-width="2.1"/>
<path d="M1146.6 868.97 h-10.0" stroke-width="2.1"/>
<path d="M1146.6 943.78 h-10.0" stroke-width="2.1"/>
<path d="M1146.6 1018.59 h-10.0" stroke-width="2.1"/>
<path d="M1146.6 1093.40 h-10.0" stroke-width="2.1"/>
<rect x="685.8" y="675.9" width="460.8" height="460.9" stroke-width="2.3"/>
</g>
<g stroke="#d2d2d2" stroke-width="1.7">
<path d="M100.37 1302.3 V1762.3"/>
<path d="M146.44 1302.3 V1762.3"/>
<path d="M192.51 1302.3 V1762.3"/>
<path d="M238.58 1302.3 V1762.3"/>
<path d="M284.65 1302.3 V1762.3"/>
<path d="M330.72 1302.3 V1762.3"/>
<path d="M376.79 1302.3 V1762.3"/>
<path d="M422.86 1302.3 V1762.3"/>
<path d="M468.93 1302.3 V1762.3"/>
</g>
<path d="M79.5 1302.25 V1762.3" stroke="#7a7a7a" stroke-width="3" stroke-dasharray="2 4.193"/>
<rect x="427.4" y="1323.33" width="87.6" height="15.00" fill="#c5c5d0"/>
<rect x="468.8" y="1338.28" width="46.2" height="15.00" fill="#9896aa"/>
<rect x="394.7" y="1353.23" width="120.3" height="15.00" fill="#c3170a"/>
<rect x="387.9" y="1398.05" width="127.1" height="15.00" fill="#c5c5d0"/>
<rect x="456.0" y="1413.00" width="59.0" height="15.00" fill="#9896aa"/>
<rect x="325.1" y="1427.95" width="189.9" height="15.00" fill="#c3170a"/>
<rect x="200.2" y="1472.77" width="314.8" height="15.00" fill="#c5c5d0"/>
<rect x="369.0" y="1487.72" width="146.0" height="15.00" fill="#9896aa"/>
<rect x="141.8" y="1502.67" width="373.2" height="15.00" fill="#c3170a"/>
<rect x="106.8" y="1547.49" width="408.2" height="15.00" fill="#c5c5d0"/>
<rect x="191.0" y="1562.44" width="324.0" height="15.00" fill="#9896aa"/>
<rect x="104.0" y="1577.39" width="411.0" height="15.00" fill="#c3170a"/>
<rect x="89.1" y="1622.21" width="425.9" height="15.00" fill="#c5c5d0"/>
<rect x="103.2" y="1637.16" width="411.8" height="15.00" fill="#9896aa"/>
<rect x="87.0" y="1652.11" width="428.0" height="15.00" fill="#c3170a"/>
<rect x="80.6" y="1696.92" width="434.4" height="15.00" fill="#c5c5d0"/>
<rect x="84.2" y="1711.88" width="430.8" height="15.00" fill="#9896aa"/>
<rect x="80.6" y="1726.83" width="434.4" height="15.00" fill="#c3170a"/>
<path d="M408.00 1330.80 H447.50" stroke="#000" stroke-width="1.6"/>
<rect x="406.60" y="1327.85" width="2.80" height="5.9" fill="#000"/>
<rect x="446.10" y="1327.85" width="2.80" height="5.9" fill="#000"/>
<path d="M462.00 1345.75 H476.50" stroke="#000" stroke-width="1.6"/>
<rect x="460.60" y="1342.80" width="2.80" height="5.9" fill="#000"/>
<rect x="475.10" y="1342.80" width="2.80" height="5.9" fill="#000"/>
<path d="M371.00 1360.70 H418.90" stroke="#000" stroke-width="1.6"/>
<rect x="369.60" y="1357.75" width="2.80" height="5.9" fill="#000"/>
<rect x="417.50" y="1357.75" width="2.80" height="5.9" fill="#000"/>
<path d="M363.30 1405.52 H413.70" stroke="#000" stroke-width="1.6"/>
<rect x="361.90" y="1402.57" width="2.80" height="5.9" fill="#000"/>
<rect x="412.30" y="1402.57" width="2.80" height="5.9" fill="#000"/>
<path d="M439.00 1420.47 H472.90" stroke="#000" stroke-width="1.6"/>
<rect x="437.60" y="1417.52" width="2.80" height="5.9" fill="#000"/>
<rect x="471.50" y="1417.52" width="2.80" height="5.9" fill="#000"/>
<path d="M302.10 1435.42 H348.80" stroke="#000" stroke-width="1.6"/>
<rect x="300.70" y="1432.47" width="2.80" height="5.9" fill="#000"/>
<rect x="347.40" y="1432.47" width="2.80" height="5.9" fill="#000"/>
<path d="M159.50 1480.24 H241.30" stroke="#000" stroke-width="1.6"/>
<rect x="158.10" y="1477.29" width="2.80" height="5.9" fill="#000"/>
<rect x="239.90" y="1477.29" width="2.80" height="5.9" fill="#000"/>
<path d="M341.60 1495.19 H396.40" stroke="#000" stroke-width="1.6"/>
<rect x="340.20" y="1492.24" width="2.80" height="5.9" fill="#000"/>
<rect x="395.00" y="1492.24" width="2.80" height="5.9" fill="#000"/>
<path d="M129.30 1510.14 H154.70" stroke="#000" stroke-width="1.6"/>
<rect x="127.90" y="1507.19" width="2.80" height="5.9" fill="#000"/>
<rect x="153.30" y="1507.19" width="2.80" height="5.9" fill="#000"/>
<path d="M99.50 1554.96 H114.40" stroke="#000" stroke-width="1.6"/>
<rect x="98.10" y="1552.01" width="2.80" height="5.9" fill="#000"/>
<rect x="113.00" y="1552.01" width="2.80" height="5.9" fill="#000"/>
<path d="M160.00 1569.91 H222.00" stroke="#000" stroke-width="1.6"/>
<rect x="158.60" y="1566.96" width="2.80" height="5.9" fill="#000"/>
<rect x="220.60" y="1566.96" width="2.80" height="5.9" fill="#000"/>
<path d="M95.10 1584.86 H112.80" stroke="#000" stroke-width="1.6"/>
<rect x="93.70" y="1581.91" width="2.80" height="5.9" fill="#000"/>
<rect x="111.40" y="1581.91" width="2.80" height="5.9" fill="#000"/>
<path d="M86.20 1629.68 H91.90" stroke="#000" stroke-width="1.6"/>
<rect x="84.80" y="1626.73" width="2.80" height="5.9" fill="#000"/>
<rect x="90.50" y="1626.73" width="2.80" height="5.9" fill="#000"/>
<path d="M96.30 1644.63 H111.20" stroke="#000" stroke-width="1.6"/>
<rect x="94.90" y="1641.68" width="2.80" height="5.9" fill="#000"/>
<rect x="109.80" y="1641.68" width="2.80" height="5.9" fill="#000"/>
<path d="M84.20 1659.58 H89.90" stroke="#000" stroke-width="1.6"/>
<rect x="82.80" y="1656.63" width="2.80" height="5.9" fill="#000"/>
<rect x="88.50" y="1656.63" width="2.80" height="5.9" fill="#000"/>
<path d="M80.60 1704.40 H80.60" stroke="#000" stroke-width="1.6"/>
<rect x="79.20" y="1701.45" width="2.80" height="5.9" fill="#000"/>
<rect x="79.20" y="1701.45" width="2.80" height="5.9" fill="#000"/>
<path d="M84.40 1719.35 H84.40" stroke="#000" stroke-width="1.6"/>
<rect x="83.00" y="1716.40" width="2.80" height="5.9" fill="#000"/>
<rect x="83.00" y="1716.40" width="2.80" height="5.9" fill="#000"/>
<path d="M80.60 1734.30 H80.60" stroke="#000" stroke-width="1.6"/>
<rect x="79.20" y="1731.35" width="2.80" height="5.9" fill="#000"/>
<rect x="79.20" y="1731.35" width="2.80" height="5.9" fill="#000"/>
<g stroke="#000" fill="none">
<path d="M63.51 1302.3 v6.0 M63.51 1762.3 v-6.0" stroke-width="1.8"/>
<path d="M72.73 1302.3 v6.0 M72.73 1762.3 v-6.0" stroke-width="1.8"/>
<path d="M81.94 1302.3 v6.0 M81.94 1762.3 v-6.0" stroke-width="1.8"/>
<path d="M91.16 1302.3 v6.0 M91.16 1762.3 v-6.0" stroke-width="1.8"/>
<path d="M100.37 1302.3 v10.1 M100.37 1762.3 v-10.1" stroke-width="2.1"/>
<path d="M109.58 1302.3 v6.0 M109.58 1762.3 v-6.0" stroke-width="1.8"/>
<path d="M118.80 1302.3 v6.0 M118.80 1762.3 v-6.0" stroke-width="1.8"/>
<path d="M128.01 1302.3 v6.0 M128.01 1762.3 v-6.0" stroke-width="1.8"/>
<path d="M137.23 1302.3 v6.0 M137.23 1762.3 v-6.0" stroke-width="1.8"/>
<path d="M146.44 1302.3 v10.1 M146.44 1762.3 v-10.1" stroke-width="2.1"/>
<path d="M155.65 1302.3 v6.0 M155.65 1762.3 v-6.0" stroke-width="1.8"/>
<path d="M164.87 1302.3 v6.0 M164.87 1762.3 v-6.0" stroke-width="1.8"/>
<path d="M174.08 1302.3 v6.0 M174.08 1762.3 v-6.0" stroke-width="1.8"/>
<path d="M183.30 1302.3 v6.0 M183.30 1762.3 v-6.0" stroke-width="1.8"/>
<path d="M192.51 1302.3 v10.1 M192.51 1762.3 v-10.1" stroke-width="2.1"/>
<path d="M201.72 1302.3 v6.0 M201.72 1762.3 v-6.0" stroke-width="1.8"/>
<path d="M210.94 1302.3 v6.0 M210.94 1762.3 v-6.0" stroke-width="1.8"/>
<path d="M220.15 1302.3 v6.0 M220.15 1762.3 v-6.0" stroke-width="1.8"/>
<path d="M229.37 1302.3 v6.0 M229.37 1762.3 v-6.0" stroke-width="1.8"/>
<path d="M238.58 1302.3 v10.1 M238.58 1762.3 v-10.1" stroke-width="2.1"/>
<path d="M247.79 1302.3 v6.0 M247.79 1762.3 v-6.0" stroke-width="1.8"/>
<path d="M257.01 1302.3 v6.0 M257.01 1762.3 v-6.0" stroke-width="1.8"/>
<path d="M266.22 1302.3 v6.0 M266.22 1762.3 v-6.0" stroke-width="1.8"/>
<path d="M275.44 1302.3 v6.0 M275.44 1762.3 v-6.0" stroke-width="1.8"/>
<path d="M284.65 1302.3 v10.1 M284.65 1762.3 v-10.1" stroke-width="2.1"/>
<path d="M293.86 1302.3 v6.0 M293.86 1762.3 v-6.0" stroke-width="1.8"/>
<path d="M303.08 1302.3 v6.0 M303.08 1762.3 v-6.0" stroke-width="1.8"/>
<path d="M312.29 1302.3 v6.0 M312.29 1762.3 v-6.0" stroke-width="1.8"/>
<path d="M321.51 1302.3 v6.0 M321.51 1762.3 v-6.0" stroke-width="1.8"/>
<path d="M330.72 1302.3 v10.1 M330.72 1762.3 v-10.1" stroke-width="2.1"/>
<path d="M339.93 1302.3 v6.0 M339.93 1762.3 v-6.0" stroke-width="1.8"/>
<path d="M349.15 1302.3 v6.0 M349.15 1762.3 v-6.0" stroke-width="1.8"/>
<path d="M358.36 1302.3 v6.0 M358.36 1762.3 v-6.0" stroke-width="1.8"/>
<path d="M367.58 1302.3 v6.0 M367.58 1762.3 v-6.0" stroke-width="1.8"/>
<path d="M376.79 1302.3 v10.1 M376.79 1762.3 v-10.1" stroke-width="2.1"/>
<path d="M386.00 1302.3 v6.0 M386.00 1762.3 v-6.0" stroke-width="1.8"/>
<path d="M395.22 1302.3 v6.0 M395.22 1762.3 v-6.0" stroke-width="1.8"/>
<path d="M404.43 1302.3 v6.0 M404.43 1762.3 v-6.0" stroke-width="1.8"/>
<path d="M413.65 1302.3 v6.0 M413.65 1762.3 v-6.0" stroke-width="1.8"/>
<path d="M422.86 1302.3 v10.1 M422.86 1762.3 v-10.1" stroke-width="2.1"/>
<path d="M432.07 1302.3 v6.0 M432.07 1762.3 v-6.0" stroke-width="1.8"/>
<path d="M441.29 1302.3 v6.0 M441.29 1762.3 v-6.0" stroke-width="1.8"/>
<path d="M450.50 1302.3 v6.0 M450.50 1762.3 v-6.0" stroke-width="1.8"/>
<path d="M459.72 1302.3 v6.0 M459.72 1762.3 v-6.0" stroke-width="1.8"/>
<path d="M468.93 1302.3 v10.1 M468.93 1762.3 v-10.1" stroke-width="2.1"/>
<path d="M478.14 1302.3 v6.0 M478.14 1762.3 v-6.0" stroke-width="1.8"/>
<path d="M487.36 1302.3 v6.0 M487.36 1762.3 v-6.0" stroke-width="1.8"/>
<path d="M496.57 1302.3 v6.0 M496.57 1762.3 v-6.0" stroke-width="1.8"/>
<path d="M505.79 1302.3 v6.0 M505.79 1762.3 v-6.0" stroke-width="1.8"/>
<path d="M54.3 1345.75 h10.0" stroke-width="2.1"/>
<path d="M54.3 1420.47 h10.0" stroke-width="2.1"/>
<path d="M54.3 1495.19 h10.0" stroke-width="2.1"/>
<path d="M54.3 1569.91 h10.0" stroke-width="2.1"/>
<path d="M54.3 1644.63 h10.0" stroke-width="2.1"/>
<path d="M54.3 1719.35 h10.0" stroke-width="2.1"/>
<rect x="54.3" y="1302.3" width="460.7" height="460.0" stroke-width="2.3"/>
</g>
<g stroke="#d6d6d6" stroke-width="1.6">
<path d="M731.88 1302.3 V1762.3"/>
<path d="M777.96 1302.3 V1762.3"/>
<path d="M824.04 1302.3 V1762.3"/>
<path d="M870.12 1302.3 V1762.3"/>
<path d="M916.20 1302.3 V1762.3"/>
<path d="M962.28 1302.3 V1762.3"/>
<path d="M1008.36 1302.3 V1762.3"/>
<path d="M1054.44 1302.3 V1762.3"/>
<path d="M1100.52 1302.3 V1762.3"/>
</g>
<rect x="685.8" y="1323.33" width="262.5" height="15.00" fill="#bfbfcb"/>
<rect x="685.8" y="1338.28" width="352.7" height="15.00" fill="#8d8c9f"/>
<rect x="685.8" y="1353.23" width="155.4" height="15.00" fill="#a5150a"/>
<rect x="685.8" y="1398.05" width="235.5" height="15.00" fill="#bfbfcb"/>
<rect x="685.8" y="1413.00" width="295.1" height="15.00" fill="#8d8c9f"/>
<rect x="685.8" y="1427.95" width="138.9" height="15.00" fill="#a5150a"/>
<rect x="685.8" y="1472.77" width="168.3" height="15.00" fill="#bfbfcb"/>
<rect x="685.8" y="1487.72" width="170.7" height="15.00" fill="#8d8c9f"/>
<rect x="685.8" y="1502.67" width="98.2" height="15.00" fill="#a5150a"/>
<rect x="685.8" y="1547.49" width="120.7" height="15.00" fill="#bfbfcb"/>
<rect x="685.8" y="1562.44" width="104.2" height="15.00" fill="#8d8c9f"/>
<rect x="685.8" y="1577.39" width="70.0" height="15.00" fill="#a5150a"/>
<rect x="685.8" y="1622.21" width="86.9" height="15.00" fill="#bfbfcb"/>
<rect x="685.8" y="1637.16" width="72.4" height="15.00" fill="#8d8c9f"/>
<rect x="685.8" y="1652.11" width="49.5" height="15.00" fill="#a5150a"/>
<rect x="685.8" y="1696.92" width="25.3" height="15.00" fill="#bfbfcb"/>
<rect x="685.8" y="1711.88" width="43.8" height="15.00" fill="#8d8c9f"/>
<rect x="685.8" y="1726.83" width="14.0" height="15.00" fill="#a5150a"/>
<path d="M946.80 1330.80 H948.80" stroke="#000" stroke-width="1.6"/>
<rect x="945.40" y="1327.85" width="2.80" height="5.9" fill="#000"/>
<rect x="947.40" y="1327.85" width="2.80" height="5.9" fill="#000"/>
<path d="M1033.80 1345.75 H1043.10" stroke="#000" stroke-width="1.6"/>
<rect x="1032.40" y="1342.80" width="2.80" height="5.9" fill="#000"/>
<rect x="1041.70" y="1342.80" width="2.80" height="5.9" fill="#000"/>
<path d="M839.70 1360.70 H842.10" stroke="#000" stroke-width="1.6"/>
<rect x="838.30" y="1357.75" width="2.80" height="5.9" fill="#000"/>
<rect x="840.70" y="1357.75" width="2.80" height="5.9" fill="#000"/>
<path d="M919.80 1405.52 H922.30" stroke="#000" stroke-width="1.6"/>
<rect x="918.40" y="1402.57" width="2.80" height="5.9" fill="#000"/>
<rect x="920.90" y="1402.57" width="2.80" height="5.9" fill="#000"/>
<path d="M977.00 1420.47 H984.60" stroke="#000" stroke-width="1.6"/>
<rect x="975.60" y="1417.52" width="2.80" height="5.9" fill="#000"/>
<rect x="983.20" y="1417.52" width="2.80" height="5.9" fill="#000"/>
<path d="M823.20 1435.42 H825.60" stroke="#000" stroke-width="1.6"/>
<rect x="821.80" y="1432.47" width="2.80" height="5.9" fill="#000"/>
<rect x="824.20" y="1432.47" width="2.80" height="5.9" fill="#000"/>
<path d="M852.60 1480.24 H854.60" stroke="#000" stroke-width="1.6"/>
<rect x="851.20" y="1477.29" width="2.80" height="5.9" fill="#000"/>
<rect x="853.20" y="1477.29" width="2.80" height="5.9" fill="#000"/>
<path d="M853.80 1495.19 H858.60" stroke="#000" stroke-width="1.6"/>
<rect x="852.40" y="1492.24" width="2.80" height="5.9" fill="#000"/>
<rect x="857.20" y="1492.24" width="2.80" height="5.9" fill="#000"/>
<path d="M782.50 1510.14 H784.50" stroke="#000" stroke-width="1.6"/>
<rect x="781.10" y="1507.19" width="2.80" height="5.9" fill="#000"/>
<rect x="783.10" y="1507.19" width="2.80" height="5.9" fill="#000"/>
<path d="M805.40 1554.96 H807.10" stroke="#000" stroke-width="1.6"/>
<rect x="804.00" y="1552.01" width="2.80" height="5.9" fill="#000"/>
<rect x="805.70" y="1552.01" width="2.80" height="5.9" fill="#000"/>
<path d="M787.70 1569.91 H791.40" stroke="#000" stroke-width="1.6"/>
<rect x="786.30" y="1566.96" width="2.80" height="5.9" fill="#000"/>
<rect x="790.00" y="1566.96" width="2.80" height="5.9" fill="#000"/>
<path d="M754.70 1584.86 H755.90" stroke="#000" stroke-width="1.6"/>
<rect x="753.30" y="1581.91" width="2.80" height="5.9" fill="#000"/>
<rect x="754.50" y="1581.91" width="2.80" height="5.9" fill="#000"/>
<path d="M771.60 1629.68 H772.80" stroke="#000" stroke-width="1.6"/>
<rect x="770.20" y="1626.73" width="2.80" height="5.9" fill="#000"/>
<rect x="771.40" y="1626.73" width="2.80" height="5.9" fill="#000"/>
<path d="M756.70 1644.63 H758.70" stroke="#000" stroke-width="1.6"/>
<rect x="755.30" y="1641.68" width="2.80" height="5.9" fill="#000"/>
<rect x="757.30" y="1641.68" width="2.80" height="5.9" fill="#000"/>
<path d="M734.60 1659.58 H735.40" stroke="#000" stroke-width="1.6"/>
<rect x="733.20" y="1656.63" width="2.80" height="5.9" fill="#000"/>
<rect x="734.00" y="1656.63" width="2.80" height="5.9" fill="#000"/>
<path d="M710.20 1704.40 H710.40" stroke="#000" stroke-width="1.6"/>
<rect x="708.80" y="1701.45" width="2.80" height="5.9" fill="#000"/>
<rect x="709.00" y="1701.45" width="2.80" height="5.9" fill="#000"/>
<path d="M728.50 1719.35 H729.30" stroke="#000" stroke-width="1.6"/>
<rect x="727.10" y="1716.40" width="2.80" height="5.9" fill="#000"/>
<rect x="727.90" y="1716.40" width="2.80" height="5.9" fill="#000"/>
<path d="M699.10 1734.30 H699.50" stroke="#000" stroke-width="1.6"/>
<rect x="697.70" y="1731.35" width="2.80" height="5.9" fill="#000"/>
<rect x="698.10" y="1731.35" width="2.80" height="5.9" fill="#000"/>
<g stroke="#000" fill="none">
<path d="M695.02 1302.3 v6.0 M695.02 1762.3 v-6.0" stroke-width="1.8"/>
<path d="M704.23 1302.3 v6.0 M704.23 1762.3 v-6.0" stroke-width="1.8"/>
<path d="M713.45 1302.3 v6.0 M713.45 1762.3 v-6.0" stroke-width="1.8"/>
<path d="M722.66 1302.3 v6.0 M722.66 1762.3 v-6.0" stroke-width="1.8"/>
<path d="M731.88 1302.3 v10.1 M731.88 1762.3 v-10.1" stroke-width="2.1"/>
<path d="M741.10 1302.3 v6.0 M741.10 1762.3 v-6.0" stroke-width="1.8"/>
<path d="M750.31 1302.3 v6.0 M750.31 1762.3 v-6.0" stroke-width="1.8"/>
<path d="M759.53 1302.3 v6.0 M759.53 1762.3 v-6.0" stroke-width="1.8"/>
<path d="M768.74 1302.3 v6.0 M768.74 1762.3 v-6.0" stroke-width="1.8"/>
<path d="M777.96 1302.3 v10.1 M777.96 1762.3 v-10.1" stroke-width="2.1"/>
<path d="M787.18 1302.3 v6.0 M787.18 1762.3 v-6.0" stroke-width="1.8"/>
<path d="M796.39 1302.3 v6.0 M796.39 1762.3 v-6.0" stroke-width="1.8"/>
<path d="M805.61 1302.3 v6.0 M805.61 1762.3 v-6.0" stroke-width="1.8"/>
<path d="M814.82 1302.3 v6.0 M814.82 1762.3 v-6.0" stroke-width="1.8"/>
<path d="M824.04 1302.3 v10.1 M824.04 1762.3 v-10.1" stroke-width="2.1"/>
<path d="M833.26 1302.3 v6.0 M833.26 1762.3 v-6.0" stroke-width="1.8"/>
<path d="M842.47 1302.3 v6.0 M842.47 1762.3 v-6.0" stroke-width="1.8"/>
<path d="M851.69 1302.3 v6.0 M851.69 1762.3 v-6.0" stroke-width="1.8"/>
<path d="M860.90 1302.3 v6.0 M860.90 1762.3 v-6.0" stroke-width="1.8"/>
<path d="M870.12 1302.3 v10.1 M870.12 1762.3 v-10.1" stroke-width="2.1"/>
<path d="M879.34 1302.3 v6.0 M879.34 1762.3 v-6.0" stroke-width="1.8"/>
<path d="M888.55 1302.3 v6.0 M888.55 1762.3 v-6.0" stroke-width="1.8"/>
<path d="M897.77 1302.3 v6.0 M897.77 1762.3 v-6.0" stroke-width="1.8"/>
<path d="M906.98 1302.3 v6.0 M906.98 1762.3 v-6.0" stroke-width="1.8"/>
<path d="M916.20 1302.3 v10.1 M916.20 1762.3 v-10.1" stroke-width="2.1"/>
<path d="M925.42 1302.3 v6.0 M925.42 1762.3 v-6.0" stroke-width="1.8"/>
<path d="M934.63 1302.3 v6.0 M934.63 1762.3 v-6.0" stroke-width="1.8"/>
<path d="M943.85 1302.3 v6.0 M943.85 1762.3 v-6.0" stroke-width="1.8"/>
<path d="M953.06 1302.3 v6.0 M953.06 1762.3 v-6.0" stroke-width="1.8"/>
<path d="M962.28 1302.3 v10.1 M962.28 1762.3 v-10.1" stroke-width="2.1"/>
<path d="M971.50 1302.3 v6.0 M971.50 1762.3 v-6.0" stroke-width="1.8"/>
<path d="M980.71 1302.3 v6.0 M980.71 1762.3 v-6.0" stroke-width="1.8"/>
<path d="M989.93 1302.3 v6.0 M989.93 1762.3 v-6.0" stroke-width="1.8"/>
<path d="M999.14 1302.3 v6.0 M999.14 1762.3 v-6.0" stroke-width="1.8"/>
<path d="M1008.36 1302.3 v10.1 M1008.36 1762.3 v-10.1" stroke-width="2.1"/>
<path d="M1017.58 1302.3 v6.0 M1017.58 1762.3 v-6.0" stroke-width="1.8"/>
<path d="M1026.79 1302.3 v6.0 M1026.79 1762.3 v-6.0" stroke-width="1.8"/>
<path d="M1036.01 1302.3 v6.0 M1036.01 1762.3 v-6.0" stroke-width="1.8"/>
<path d="M1045.22 1302.3 v6.0 M1045.22 1762.3 v-6.0" stroke-width="1.8"/>
<path d="M1054.44 1302.3 v10.1 M1054.44 1762.3 v-10.1" stroke-width="2.1"/>
<path d="M1063.66 1302.3 v6.0 M1063.66 1762.3 v-6.0" stroke-width="1.8"/>
<path d="M1072.87 1302.3 v6.0 M1072.87 1762.3 v-6.0" stroke-width="1.8"/>
<path d="M1082.09 1302.3 v6.0 M1082.09 1762.3 v-6.0" stroke-width="1.8"/>
<path d="M1091.30 1302.3 v6.0 M1091.30 1762.3 v-6.0" stroke-width="1.8"/>
<path d="M1100.52 1302.3 v10.1 M1100.52 1762.3 v-10.1" stroke-width="2.1"/>
<path d="M1109.74 1302.3 v6.0 M1109.74 1762.3 v-6.0" stroke-width="1.8"/>
<path d="M1118.95 1302.3 v6.0 M1118.95 1762.3 v-6.0" stroke-width="1.8"/>
<path d="M1128.17 1302.3 v6.0 M1128.17 1762.3 v-6.0" stroke-width="1.8"/>
<path d="M1137.38 1302.3 v6.0 M1137.38 1762.3 v-6.0" stroke-width="1.8"/>
<path d="M1146.6 1345.75 h-10.0" stroke-width="2.1"/>
<path d="M1146.6 1420.47 h-10.0" stroke-width="2.1"/>
<path d="M1146.6 1495.19 h-10.0" stroke-width="2.1"/>
<path d="M1146.6 1569.91 h-10.0" stroke-width="2.1"/>
<path d="M1146.6 1644.63 h-10.0" stroke-width="2.1"/>
<path d="M1146.6 1719.35 h-10.0" stroke-width="2.1"/>
<rect x="685.8" y="1302.3" width="460.8" height="460.0" stroke-width="2.3"/>
</g>
<g stroke="#d2d2d2" stroke-width="1.7">
<path d="M100.37 1928.4 V2388.6"/>
<path d="M146.44 1928.4 V2388.6"/>
<path d="M192.51 1928.4 V2388.6"/>
<path d="M238.58 1928.4 V2388.6"/>
<path d="M284.65 1928.4 V2388.6"/>
<path d="M330.72 1928.4 V2388.6"/>
<path d="M376.79 1928.4 V2388.6"/>
<path d="M422.86 1928.4 V2388.6"/>
<path d="M468.93 1928.4 V2388.6"/>
</g>
<path d="M79.5 1928.30 V2388.6" stroke="#7a7a7a" stroke-width="3" stroke-dasharray="2 4.193"/>
<rect x="416.9" y="1949.48" width="98.1" height="15.00" fill="#c5c5d0"/>
<rect x="462.0" y="1964.43" width="53.0" height="15.00" fill="#9896aa"/>
<rect x="306.1" y="1979.38" width="208.9" height="15.00" fill="#c3170a"/>
<rect x="374.2" y="2024.16" width="140.8" height="15.00" fill="#c5c5d0"/>
<rect x="451.9" y="2039.11" width="63.1" height="15.00" fill="#9896aa"/>
<rect x="227.2" y="2054.06" width="287.8" height="15.00" fill="#c3170a"/>
<rect x="153.1" y="2098.84" width="361.9" height="15.00" fill="#c5c5d0"/>
<rect x="346.0" y="2113.78" width="169.0" height="15.00" fill="#9896aa"/>
<rect x="102.0" y="2128.74" width="413.0" height="15.00" fill="#c3170a"/>
<rect x="96.3" y="2173.51" width="418.7" height="15.00" fill="#c5c5d0"/>
<rect x="132.2" y="2188.46" width="382.8" height="15.00" fill="#9896aa"/>
<rect x="89.5" y="2203.41" width="425.5" height="15.00" fill="#c3170a"/>
<rect x="85.4" y="2248.19" width="429.6" height="15.00" fill="#c5c5d0"/>
<rect x="101.6" y="2263.14" width="413.4" height="15.00" fill="#9896aa"/>
<rect x="83.8" y="2278.09" width="431.2" height="15.00" fill="#c3170a"/>
<rect x="79.8" y="2322.88" width="435.2" height="15.00" fill="#c5c5d0"/>
<rect x="91.5" y="2337.82" width="423.5" height="15.00" fill="#9896aa"/>
<rect x="80.6" y="2352.78" width="434.4" height="15.00" fill="#c3170a"/>
<path d="M397.60 1956.95 H437.00" stroke="#000" stroke-width="1.6"/>
<rect x="396.20" y="1954.00" width="2.80" height="5.9" fill="#000"/>
<rect x="435.60" y="1954.00" width="2.80" height="5.9" fill="#000"/>
<path d="M445.90 1971.90 H478.10" stroke="#000" stroke-width="1.6"/>
<rect x="444.50" y="1968.95" width="2.80" height="5.9" fill="#000"/>
<rect x="476.70" y="1968.95" width="2.80" height="5.9" fill="#000"/>
<path d="M278.40 1986.85 H335.10" stroke="#000" stroke-width="1.6"/>
<rect x="277.00" y="1983.90" width="2.80" height="5.9" fill="#000"/>
<rect x="333.70" y="1983.90" width="2.80" height="5.9" fill="#000"/>
<path d="M344.80 2031.63 H403.60" stroke="#000" stroke-width="1.6"/>
<rect x="343.40" y="2028.68" width="2.80" height="5.9" fill="#000"/>
<rect x="402.20" y="2028.68" width="2.80" height="5.9" fill="#000"/>
<path d="M442.30 2046.58 H461.60" stroke="#000" stroke-width="1.6"/>
<rect x="440.90" y="2043.63" width="2.80" height="5.9" fill="#000"/>
<rect x="460.20" y="2043.63" width="2.80" height="5.9" fill="#000"/>
<path d="M179.30 2061.53 H275.50" stroke="#000" stroke-width="1.6"/>
<rect x="177.90" y="2058.58" width="2.80" height="5.9" fill="#000"/>
<rect x="274.10" y="2058.58" width="2.80" height="5.9" fill="#000"/>
<path d="M129.30 2106.31 H177.30" stroke="#000" stroke-width="1.6"/>
<rect x="127.90" y="2103.36" width="2.80" height="5.9" fill="#000"/>
<rect x="175.90" y="2103.36" width="2.80" height="5.9" fill="#000"/>
<path d="M311.00 2121.26 H381.00" stroke="#000" stroke-width="1.6"/>
<rect x="309.60" y="2118.31" width="2.80" height="5.9" fill="#000"/>
<rect x="379.60" y="2118.31" width="2.80" height="5.9" fill="#000"/>
<path d="M97.10 2136.21 H107.60" stroke="#000" stroke-width="1.6"/>
<rect x="95.70" y="2133.26" width="2.80" height="5.9" fill="#000"/>
<rect x="106.20" y="2133.26" width="2.80" height="5.9" fill="#000"/>
<path d="M91.10 2180.99 H102.00" stroke="#000" stroke-width="1.6"/>
<rect x="89.70" y="2178.04" width="2.80" height="5.9" fill="#000"/>
<rect x="100.60" y="2178.04" width="2.80" height="5.9" fill="#000"/>
<path d="M115.20 2195.94 H149.90" stroke="#000" stroke-width="1.6"/>
<rect x="113.80" y="2192.99" width="2.80" height="5.9" fill="#000"/>
<rect x="148.50" y="2192.99" width="2.80" height="5.9" fill="#000"/>
<path d="M87.00 2210.89 H92.30" stroke="#000" stroke-width="1.6"/>
<rect x="85.60" y="2207.94" width="2.80" height="5.9" fill="#000"/>
<rect x="90.90" y="2207.94" width="2.80" height="5.9" fill="#000"/>
<path d="M84.80 2255.67 H86.90" stroke="#000" stroke-width="1.6"/>
<rect x="83.40" y="2252.72" width="2.80" height="5.9" fill="#000"/>
<rect x="85.50" y="2252.72" width="2.80" height="5.9" fill="#000"/>
<path d="M92.70 2270.62 H111.20" stroke="#000" stroke-width="1.6"/>
<rect x="91.30" y="2267.67" width="2.80" height="5.9" fill="#000"/>
<rect x="109.80" y="2267.67" width="2.80" height="5.9" fill="#000"/>
<path d="M84.00 2285.57 H84.00" stroke="#000" stroke-width="1.6"/>
<rect x="82.60" y="2282.62" width="2.80" height="5.9" fill="#000"/>
<rect x="82.60" y="2282.62" width="2.80" height="5.9" fill="#000"/>
<path d="M79.80 2330.35 H79.80" stroke="#000" stroke-width="1.6"/>
<rect x="78.40" y="2327.40" width="2.80" height="5.9" fill="#000"/>
<rect x="78.40" y="2327.40" width="2.80" height="5.9" fill="#000"/>
<path d="M85.40 2345.30 H98.70" stroke="#000" stroke-width="1.6"/>
<rect x="84.00" y="2342.35" width="2.80" height="5.9" fill="#000"/>
<rect x="97.30" y="2342.35" width="2.80" height="5.9" fill="#000"/>
<path d="M80.50 2360.25 H80.50" stroke="#000" stroke-width="1.6"/>
<rect x="79.10" y="2357.30" width="2.80" height="5.9" fill="#000"/>
<rect x="79.10" y="2357.30" width="2.80" height="5.9" fill="#000"/>
<g stroke="#000" fill="none">
<path d="M63.51 1928.4 v6.0 M63.51 2388.6 v-6.0" stroke-width="1.8"/>
<path d="M72.73 1928.4 v6.0 M72.73 2388.6 v-6.0" stroke-width="1.8"/>
<path d="M81.94 1928.4 v6.0 M81.94 2388.6 v-6.0" stroke-width="1.8"/>
<path d="M91.16 1928.4 v6.0 M91.16 2388.6 v-6.0" stroke-width="1.8"/>
<path d="M100.37 1928.4 v10.1 M100.37 2388.6 v-10.1" stroke-width="2.1"/>
<path d="M109.58 1928.4 v6.0 M109.58 2388.6 v-6.0" stroke-width="1.8"/>
<path d="M118.80 1928.4 v6.0 M118.80 2388.6 v-6.0" stroke-width="1.8"/>
<path d="M128.01 1928.4 v6.0 M128.01 2388.6 v-6.0" stroke-width="1.8"/>
<path d="M137.23 1928.4 v6.0 M137.23 2388.6 v-6.0" stroke-width="1.8"/>
<path d="M146.44 1928.4 v10.1 M146.44 2388.6 v-10.1" stroke-width="2.1"/>
<path d="M155.65 1928.4 v6.0 M155.65 2388.6 v-6.0" stroke-width="1.8"/>
<path d="M164.87 1928.4 v6.0 M164.87 2388.6 v-6.0" stroke-width="1.8"/>
<path d="M174.08 1928.4 v6.0 M174.08 2388.6 v-6.0" stroke-width="1.8"/>
<path d="M183.30 1928.4 v6.0 M183.30 2388.6 v-6.0" stroke-width="1.8"/>
<path d="M192.51 1928.4 v10.1 M192.51 2388.6 v-10.1" stroke-width="2.1"/>
<path d="M201.72 1928.4 v6.0 M201.72 2388.6 v-6.0" stroke-width="1.8"/>
<path d="M210.94 1928.4 v6.0 M210.94 2388.6 v-6.0" stroke-width="1.8"/>
<path d="M220.15 1928.4 v6.0 M220.15 2388.6 v-6.0" stroke-width="1.8"/>
<path d="M229.37 1928.4 v6.0 M229.37 2388.6 v-6.0" stroke-width="1.8"/>
<path d="M238.58 1928.4 v10.1 M238.58 2388.6 v-10.1" stroke-width="2.1"/>
<path d="M247.79 1928.4 v6.0 M247.79 2388.6 v-6.0" stroke-width="1.8"/>
<path d="M257.01 1928.4 v6.0 M257.01 2388.6 v-6.0" stroke-width="1.8"/>
<path d="M266.22 1928.4 v6.0 M266.22 2388.6 v-6.0" stroke-width="1.8"/>
<path d="M275.44 1928.4 v6.0 M275.44 2388.6 v-6.0" stroke-width="1.8"/>
<path d="M284.65 1928.4 v10.1 M284.65 2388.6 v-10.1" stroke-width="2.1"/>
<path d="M293.86 1928.4 v6.0 M293.86 2388.6 v-6.0" stroke-width="1.8"/>
<path d="M303.08 1928.4 v6.0 M303.08 2388.6 v-6.0" stroke-width="1.8"/>
<path d="M312.29 1928.4 v6.0 M312.29 2388.6 v-6.0" stroke-width="1.8"/>
<path d="M321.51 1928.4 v6.0 M321.51 2388.6 v-6.0" stroke-width="1.8"/>
<path d="M330.72 1928.4 v10.1 M330.72 2388.6 v-10.1" stroke-width="2.1"/>
<path d="M339.93 1928.4 v6.0 M339.93 2388.6 v-6.0" stroke-width="1.8"/>
<path d="M349.15 1928.4 v6.0 M349.15 2388.6 v-6.0" stroke-width="1.8"/>
<path d="M358.36 1928.4 v6.0 M358.36 2388.6 v-6.0" stroke-width="1.8"/>
<path d="M367.58 1928.4 v6.0 M367.58 2388.6 v-6.0" stroke-width="1.8"/>
<path d="M376.79 1928.4 v10.1 M376.79 2388.6 v-10.1" stroke-width="2.1"/>
<path d="M386.00 1928.4 v6.0 M386.00 2388.6 v-6.0" stroke-width="1.8"/>
<path d="M395.22 1928.4 v6.0 M395.22 2388.6 v-6.0" stroke-width="1.8"/>
<path d="M404.43 1928.4 v6.0 M404.43 2388.6 v-6.0" stroke-width="1.8"/>
<path d="M413.65 1928.4 v6.0 M413.65 2388.6 v-6.0" stroke-width="1.8"/>
<path d="M422.86 1928.4 v10.1 M422.86 2388.6 v-10.1" stroke-width="2.1"/>
<path d="M432.07 1928.4 v6.0 M432.07 2388.6 v-6.0" stroke-width="1.8"/>
<path d="M441.29 1928.4 v6.0 M441.29 2388.6 v-6.0" stroke-width="1.8"/>
<path d="M450.50 1928.4 v6.0 M450.50 2388.6 v-6.0" stroke-width="1.8"/>
<path d="M459.72 1928.4 v6.0 M459.72 2388.6 v-6.0" stroke-width="1.8"/>
<path d="M468.93 1928.4 v10.1 M468.93 2388.6 v-10.1" stroke-width="2.1"/>
<path d="M478.14 1928.4 v6.0 M478.14 2388.6 v-6.0" stroke-width="1.8"/>
<path d="M487.36 1928.4 v6.0 M487.36 2388.6 v-6.0" stroke-width="1.8"/>
<path d="M496.57 1928.4 v6.0 M496.57 2388.6 v-6.0" stroke-width="1.8"/>
<path d="M505.79 1928.4 v6.0 M505.79 2388.6 v-6.0" stroke-width="1.8"/>
<path d="M54.3 1971.90 h10.0" stroke-width="2.1"/>
<path d="M54.3 2046.58 h10.0" stroke-width="2.1"/>
<path d="M54.3 2121.26 h10.0" stroke-width="2.1"/>
<path d="M54.3 2195.94 h10.0" stroke-width="2.1"/>
<path d="M54.3 2270.62 h10.0" stroke-width="2.1"/>
<path d="M54.3 2345.30 h10.0" stroke-width="2.1"/>
<rect x="54.3" y="1928.4" width="460.7" height="460.2" stroke-width="2.3"/>
</g>
<g stroke="#d6d6d6" stroke-width="1.6">
<path d="M731.88 1928.4 V2388.6"/>
<path d="M777.96 1928.4 V2388.6"/>
<path d="M824.04 1928.4 V2388.6"/>
<path d="M870.12 1928.4 V2388.6"/>
<path d="M916.20 1928.4 V2388.6"/>
<path d="M962.28 1928.4 V2388.6"/>
<path d="M1008.36 1928.4 V2388.6"/>
<path d="M1054.44 1928.4 V2388.6"/>
<path d="M1100.52 1928.4 V2388.6"/>
</g>
<rect x="685.8" y="1949.48" width="262.5" height="15.00" fill="#bfbfcb"/>
<rect x="685.8" y="1964.43" width="432.5" height="15.00" fill="#8d8c9f"/>
<rect x="685.8" y="1979.38" width="114.7" height="15.00" fill="#a5150a"/>
<rect x="685.8" y="2024.16" width="235.5" height="15.00" fill="#bfbfcb"/>
<rect x="685.8" y="2039.11" width="344.3" height="15.00" fill="#8d8c9f"/>
<rect x="685.8" y="2054.06" width="101.4" height="15.00" fill="#a5150a"/>
<rect x="685.8" y="2098.84" width="168.3" height="15.00" fill="#bfbfcb"/>
<rect x="685.8" y="2113.78" width="169.9" height="15.00" fill="#8d8c9f"/>
<rect x="685.8" y="2128.74" width="70.4" height="15.00" fill="#a5150a"/>
<rect x="685.8" y="2173.51" width="121.2" height="15.00" fill="#bfbfcb"/>
<rect x="685.8" y="2188.46" width="94.2" height="15.00" fill="#8d8c9f"/>
<rect x="685.8" y="2203.41" width="49.5" height="15.00" fill="#a5150a"/>
<rect x="685.8" y="2248.19" width="87.3" height="15.00" fill="#bfbfcb"/>
<rect x="685.8" y="2263.14" width="70.4" height="15.00" fill="#8d8c9f"/>
<rect x="685.8" y="2278.09" width="35.8" height="15.00" fill="#a5150a"/>
<rect x="685.8" y="2322.88" width="25.3" height="15.00" fill="#bfbfcb"/>
<rect x="685.8" y="2337.82" width="61.6" height="15.00" fill="#8d8c9f"/>
<rect x="685.8" y="2352.78" width="10.0" height="15.00" fill="#a5150a"/>
<path d="M946.80 1956.95 H948.40" stroke="#000" stroke-width="1.6"/>
<rect x="945.40" y="1954.00" width="2.80" height="5.9" fill="#000"/>
<rect x="947.00" y="1954.00" width="2.80" height="5.9" fill="#000"/>
<path d="M1113.10 1971.90 H1122.00" stroke="#000" stroke-width="1.6"/>
<rect x="1111.70" y="1968.95" width="2.80" height="5.9" fill="#000"/>
<rect x="1120.60" y="1968.95" width="2.80" height="5.9" fill="#000"/>
<path d="M799.00 1986.85 H801.00" stroke="#000" stroke-width="1.6"/>
<rect x="797.60" y="1983.90" width="2.80" height="5.9" fill="#000"/>
<rect x="799.60" y="1983.90" width="2.80" height="5.9" fill="#000"/>
<path d="M920.60 2031.63 H921.00" stroke="#000" stroke-width="1.6"/>
<rect x="919.20" y="2028.68" width="2.80" height="5.9" fill="#000"/>
<rect x="919.60" y="2028.68" width="2.80" height="5.9" fill="#000"/>
<path d="M1024.50 2046.58 H1034.60" stroke="#000" stroke-width="1.6"/>
<rect x="1023.10" y="2043.63" width="2.80" height="5.9" fill="#000"/>
<rect x="1033.20" y="2043.63" width="2.80" height="5.9" fill="#000"/>
<path d="M786.10 2061.53 H787.30" stroke="#000" stroke-width="1.6"/>
<rect x="784.70" y="2058.58" width="2.80" height="5.9" fill="#000"/>
<rect x="785.90" y="2058.58" width="2.80" height="5.9" fill="#000"/>
<path d="M853.00 2106.31 H854.20" stroke="#000" stroke-width="1.6"/>
<rect x="851.60" y="2103.36" width="2.80" height="5.9" fill="#000"/>
<rect x="852.80" y="2103.36" width="2.80" height="5.9" fill="#000"/>
<path d="M853.80 2121.26 H857.40" stroke="#000" stroke-width="1.6"/>
<rect x="852.40" y="2118.31" width="2.80" height="5.9" fill="#000"/>
<rect x="856.00" y="2118.31" width="2.80" height="5.9" fill="#000"/>
<path d="M754.70 2136.21 H755.90" stroke="#000" stroke-width="1.6"/>
<rect x="753.30" y="2133.26" width="2.80" height="5.9" fill="#000"/>
<rect x="754.50" y="2133.26" width="2.80" height="5.9" fill="#000"/>
<path d="M805.80 2180.99 H807.10" stroke="#000" stroke-width="1.6"/>
<rect x="804.40" y="2178.04" width="2.80" height="5.9" fill="#000"/>
<rect x="805.70" y="2178.04" width="2.80" height="5.9" fill="#000"/>
<path d="M778.50 2195.94 H780.50" stroke="#000" stroke-width="1.6"/>
<rect x="777.10" y="2192.99" width="2.80" height="5.9" fill="#000"/>
<rect x="779.10" y="2192.99" width="2.80" height="5.9" fill="#000"/>
<path d="M734.60 2210.89 H735.40" stroke="#000" stroke-width="1.6"/>
<rect x="733.20" y="2207.94" width="2.80" height="5.9" fill="#000"/>
<rect x="734.00" y="2207.94" width="2.80" height="5.9" fill="#000"/>
<path d="M772.00 2255.67 H773.20" stroke="#000" stroke-width="1.6"/>
<rect x="770.60" y="2252.72" width="2.80" height="5.9" fill="#000"/>
<rect x="771.80" y="2252.72" width="2.80" height="5.9" fill="#000"/>
<path d="M754.70 2270.62 H756.70" stroke="#000" stroke-width="1.6"/>
<rect x="753.30" y="2267.67" width="2.80" height="5.9" fill="#000"/>
<rect x="755.30" y="2267.67" width="2.80" height="5.9" fill="#000"/>
<path d="M720.50 2285.57 H721.30" stroke="#000" stroke-width="1.6"/>
<rect x="719.10" y="2282.62" width="2.80" height="5.9" fill="#000"/>
<rect x="719.90" y="2282.62" width="2.80" height="5.9" fill="#000"/>
<path d="M710.20 2330.35 H710.40" stroke="#000" stroke-width="1.6"/>
<rect x="708.80" y="2327.40" width="2.80" height="5.9" fill="#000"/>
<rect x="709.00" y="2327.40" width="2.80" height="5.9" fill="#000"/>
<path d="M746.20 2345.30 H747.10" stroke="#000" stroke-width="1.6"/>
<rect x="744.80" y="2342.35" width="2.80" height="5.9" fill="#000"/>
<rect x="745.70" y="2342.35" width="2.80" height="5.9" fill="#000"/>
<path d="M695.10 2360.25 H695.10" stroke="#000" stroke-width="1.6"/>
<rect x="693.70" y="2357.30" width="2.80" height="5.9" fill="#000"/>
<rect x="693.70" y="2357.30" width="2.80" height="5.9" fill="#000"/>
<g stroke="#000" fill="none">
<path d="M695.02 1928.4 v6.0 M695.02 2388.6 v-6.0" stroke-width="1.8"/>
<path d="M704.23 1928.4 v6.0 M704.23 2388.6 v-6.0" stroke-width="1.8"/>
<path d="M713.45 1928.4 v6.0 M713.45 2388.6 v-6.0" stroke-width="1.8"/>
<path d="M722.66 1928.4 v6.0 M722.66 2388.6 v-6.0" stroke-width="1.8"/>
<path d="M731.88 1928.4 v10.1 M731.88 2388.6 v-10.1" stroke-width="2.1"/>
<path d="M741.10 1928.4 v6.0 M741.10 2388.6 v-6.0" stroke-width="1.8"/>
<path d="M750.31 1928.4 v6.0 M750.31 2388.6 v-6.0" stroke-width="1.8"/>
<path d="M759.53 1928.4 v6.0 M759.53 2388.6 v-6.0" stroke-width="1.8"/>
<path d="M768.74 1928.4 v6.0 M768.74 2388.6 v-6.0" stroke-width="1.8"/>
<path d="M777.96 1928.4 v10.1 M777.96 2388.6 v-10.1" stroke-width="2.1"/>
<path d="M787.18 1928.4 v6.0 M787.18 2388.6 v-6.0" stroke-width="1.8"/>
<path d="M796.39 1928.4 v6.0 M796.39 2388.6 v-6.0" stroke-width="1.8"/>
<path d="M805.61 1928.4 v6.0 M805.61 2388.6 v-6.0" stroke-width="1.8"/>
<path d="M814.82 1928.4 v6.0 M814.82 2388.6 v-6.0" stroke-width="1.8"/>
<path d="M824.04 1928.4 v10.1 M824.04 2388.6 v-10.1" stroke-width="2.1"/>
<path d="M833.26 1928.4 v6.0 M833.26 2388.6 v-6.0" stroke-width="1.8"/>
<path d="M842.47 1928.4 v6.0 M842.47 2388.6 v-6.0" stroke-width="1.8"/>
<path d="M851.69 1928.4 v6.0 M851.69 2388.6 v-6.0" stroke-width="1.8"/>
<path d="M860.90 1928.4 v6.0 M860.90 2388.6 v-6.0" stroke-width="1.8"/>
<path d="M870.12 1928.4 v10.1 M870.12 2388.6 v-10.1" stroke-width="2.1"/>
<path d="M879.34 1928.4 v6.0 M879.34 2388.6 v-6.0" stroke-width="1.8"/>
<path d="M888.55 1928.4 v6.0 M888.55 2388.6 v-6.0" stroke-width="1.8"/>
<path d="M897.77 1928.4 v6.0 M897.77 2388.6 v-6.0" stroke-width="1.8"/>
<path d="M906.98 1928.4 v6.0 M906.98 2388.6 v-6.0" stroke-width="1.8"/>
<path d="M916.20 1928.4 v10.1 M916.20 2388.6 v-10.1" stroke-width="2.1"/>
<path d="M925.42 1928.4 v6.0 M925.42 2388.6 v-6.0" stroke-width="1.8"/>
<path d="M934.63 1928.4 v6.0 M934.63 2388.6 v-6.0" stroke-width="1.8"/>
<path d="M943.85 1928.4 v6.0 M943.85 2388.6 v-6.0" stroke-width="1.8"/>
<path d="M953.06 1928.4 v6.0 M953.06 2388.6 v-6.0" stroke-width="1.8"/>
<path d="M962.28 1928.4 v10.1 M962.28 2388.6 v-10.1" stroke-width="2.1"/>
<path d="M971.50 1928.4 v6.0 M971.50 2388.6 v-6.0" stroke-width="1.8"/>
<path d="M980.71 1928.4 v6.0 M980.71 2388.6 v-6.0" stroke-width="1.8"/>
<path d="M989.93 1928.4 v6.0 M989.93 2388.6 v-6.0" stroke-width="1.8"/>
<path d="M999.14 1928.4 v6.0 M999.14 2388.6 v-6.0" stroke-width="1.8"/>
<path d="M1008.36 1928.4 v10.1 M1008.36 2388.6 v-10.1" stroke-width="2.1"/>
<path d="M1017.58 1928.4 v6.0 M1017.58 2388.6 v-6.0" stroke-width="1.8"/>
<path d="M1026.79 1928.4 v6.0 M1026.79 2388.6 v-6.0" stroke-width="1.8"/>
<path d="M1036.01 1928.4 v6.0 M1036.01 2388.6 v-6.0" stroke-width="1.8"/>
<path d="M1045.22 1928.4 v6.0 M1045.22 2388.6 v-6.0" stroke-width="1.8"/>
<path d="M1054.44 1928.4 v10.1 M1054.44 2388.6 v-10.1" stroke-width="2.1"/>
<path d="M1063.66 1928.4 v6.0 M1063.66 2388.6 v-6.0" stroke-width="1.8"/>
<path d="M1072.87 1928.4 v6.0 M1072.87 2388.6 v-6.0" stroke-width="1.8"/>
<path d="M1082.09 1928.4 v6.0 M1082.09 2388.6 v-6.0" stroke-width="1.8"/>
<path d="M1091.30 1928.4 v6.0 M1091.30 2388.6 v-6.0" stroke-width="1.8"/>
<path d="M1100.52 1928.4 v10.1 M1100.52 2388.6 v-10.1" stroke-width="2.1"/>
<path d="M1109.74 1928.4 v6.0 M1109.74 2388.6 v-6.0" stroke-width="1.8"/>
<path d="M1118.95 1928.4 v6.0 M1118.95 2388.6 v-6.0" stroke-width="1.8"/>
<path d="M1128.17 1928.4 v6.0 M1128.17 2388.6 v-6.0" stroke-width="1.8"/>
<path d="M1137.38 1928.4 v6.0 M1137.38 2388.6 v-6.0" stroke-width="1.8"/>
<path d="M1146.6 1971.90 h-10.0" stroke-width="2.1"/>
<path d="M1146.6 2046.58 h-10.0" stroke-width="2.1"/>
<path d="M1146.6 2121.26 h-10.0" stroke-width="2.1"/>
<path d="M1146.6 2195.94 h-10.0" stroke-width="2.1"/>
<path d="M1146.6 2270.62 h-10.0" stroke-width="2.1"/>
<path d="M1146.6 2345.30 h-10.0" stroke-width="2.1"/>
<rect x="685.8" y="1928.4" width="460.8" height="460.2" stroke-width="2.3"/>
</g>
<g style="filter:grayscale(1)">
<text x="-4.00" y="27.80" text-anchor="start" font-family='"Liberation Sans", sans-serif' font-weight="bold" font-size="53.00" fill="#000">a</text>
<text x="9.20" y="616.50" text-anchor="start" font-family='"Liberation Sans", sans-serif' font-weight="bold" font-size="53.00" fill="#000">b</text>
<text transform="translate(199.29 37.90) scale(1.0892 1)" font-family='"Liberation Serif", serif' font-size="30.08" fill="#000" stroke="#000" stroke-width="0.30">28</text>
<text transform="translate(265.29 37.90) scale(1.0892 1)" font-family='"Liberation Serif", serif' font-size="30.08" fill="#000" stroke="#000" stroke-width="0.30">28</text>
<text x="165.71" y="72.60" font-family='"Liberation Sans", sans-serif' font-size="29.12" fill="#000">input images</text>
<text x="458.12" y="205.80" font-family='"Liberation Sans", sans-serif' font-size="29.81" fill="#000">Flatten</text>
<text transform="translate(390.46 279.50) scale(1.1182 1)" font-family='"Liberation Serif", serif' font-size="29.47" fill="#000" stroke="#000" stroke-width="0.30">784</text>
<text x="442.15" y="279.50" font-family='"Liberation Sans", sans-serif' font-size="28.85" fill="#000">-dimensional</text>
<text x="469.64" y="314.20" font-family='"Liberation Sans", sans-serif' font-size="28.90" fill="#000">data</text>
<text transform="translate(76.82 516.50) scale(1.0572 1)" font-family='"Liberation Serif", serif' font-size="29.77" fill="#000" stroke="#000" stroke-width="0.30">10</text>
<text x="118.14" y="516.60" font-family='"Liberation Sans", sans-serif' font-size="29.12" fill="#000">classes corresponding</text>
<text x="193.07" y="552.20" font-family='"Liberation Sans", sans-serif' font-size="28.95" fill="#000">to digits</text>
<text transform="translate(920.70 383.90) scale(0.9886 1)" font-family='"Liberation Sans", sans-serif' font-weight="bold" font-size="29.57" fill="#000" stroke="#000" stroke-width="0.00">Layer 2</text>
<text transform="translate(915.04 418.90) scale(1.0308 1)" font-family='"Liberation Serif", serif' font-size="29.17" fill="#000" stroke="#000" stroke-width="0.30">150</text>
<text transform="translate(998.07 418.90) scale(1.0206 1)" font-family='"Liberation Serif", serif' font-size="29.17" fill="#000" stroke="#000" stroke-width="0.30">10</text>
<text transform="translate(782.55 465.80) scale(0.9548 1)" font-family='"Liberation Sans", sans-serif' font-weight="bold" font-size="29.86" fill="#000" stroke="#000" stroke-width="0.00">Layer 1</text>
<text transform="translate(768.74 501.80) scale(1.0895 1)" font-family='"Liberation Serif", serif' font-size="29.02" fill="#000" stroke="#000" stroke-width="0.30">784</text>
<text transform="translate(850.90 501.80) scale(1.0961 1)" font-family='"Liberation Serif", serif' font-size="29.02" fill="#000" stroke="#000" stroke-width="0.30">150</text>
<text x="1058.41" y="210.60" font-family='"Liberation Sans", sans-serif' font-size="29.92" fill="#000">Digit “</text>
<text transform="translate(1136.54 210.80) scale(0.9855 1)" font-family='"Liberation Serif", serif' font-size="30.68" fill="#000" stroke="#000" stroke-width="0.30">0</text>
<text x="1151.79" y="210.80" text-anchor="start" font-family='"Liberation Sans", sans-serif' font-size="29.90" fill="#000">”</text>
<text x="1062.32" y="308.30" font-family='"Liberation Sans", sans-serif' font-size="29.76" fill="#000">Digit “</text>
<text transform="translate(1140.47 308.50) scale(1.0082 1)" font-family='"Liberation Serif", serif' font-size="30.91" fill="#000" stroke="#000" stroke-width="0.30">9</text>
<text x="1156.01" y="308.50" text-anchor="start" font-family='"Liberation Sans", sans-serif' font-size="29.80" fill="#000">”</text>
<text x="452.64" y="628.00" font-family='"Liberation Sans", sans-serif' font-size="30.80" fill="#000">Redundancy</text>
<text x="634.20" y="628.30" font-family='"Liberation Serif", serif' font-style="italic" font-size="31.92" fill="#000" stroke="#000" stroke-width="0.45">α</text>
<text transform="translate(693.00 628.00) scale(1.0868 1)" font-family='"Liberation Serif", serif' font-size="31.36" fill="#000" stroke="#000" stroke-width="0.30">1</text>
<text x="452.64" y="1257.60" font-family='"Liberation Sans", sans-serif' font-size="30.80" fill="#000">Redundancy</text>
<text x="634.20" y="1257.90" font-family='"Liberation Serif", serif' font-style="italic" font-size="31.92" fill="#000" stroke="#000" stroke-width="0.45">α</text>
<text transform="translate(693.61 1257.60) scale(0.9869 1)" font-family='"Liberation Serif", serif' font-size="31.36" fill="#000" stroke="#000" stroke-width="0.30">3</text>
<text x="452.64" y="1893.60" font-family='"Liberation Sans", sans-serif' font-size="30.80" fill="#000">Redundancy</text>
<text x="634.20" y="1893.90" font-family='"Liberation Serif", serif' font-style="italic" font-size="31.92" fill="#000" stroke="#000" stroke-width="0.45">α</text>
<text transform="translate(693.21 1893.60) scale(1.0262 1)" font-family='"Liberation Serif", serif' font-size="31.36" fill="#000" stroke="#000" stroke-width="0.30">6</text>
<text x="249.02" y="714.20" text-anchor="start" font-family='"Liberation Sans", sans-serif' font-size="23.50" fill="#000">LEA - Simple</text>
<text x="249.02" y="747.30" text-anchor="start" font-family='"Liberation Sans", sans-serif' font-size="23.50" fill="#000">MAO</text>
<text x="249.72" y="780.40" text-anchor="start" font-family='"Liberation Sans", sans-serif' font-size="23.50" fill="#000">CM</text>
<text x="35.12" y="1163.40" text-anchor="start" font-family='"Liberation Sans", sans-serif' font-size="23.20" fill="#000">100</text>
<text x="87.38" y="1163.40" text-anchor="start" font-family='"Liberation Sans", sans-serif' font-size="23.20" fill="#000">90</text>
<text x="133.51" y="1163.40" text-anchor="start" font-family='"Liberation Sans", sans-serif' font-size="23.20" fill="#000">80</text>
<text x="179.46" y="1163.40" text-anchor="start" font-family='"Liberation Sans", sans-serif' font-size="23.20" fill="#000">70</text>
<text x="225.53" y="1163.40" text-anchor="start" font-family='"Liberation Sans", sans-serif' font-size="23.20" fill="#000">60</text>
<text x="271.72" y="1163.40" text-anchor="start" font-family='"Liberation Sans", sans-serif' font-size="23.20" fill="#000">50</text>
<text x="318.02" y="1163.40" text-anchor="start" font-family='"Liberation Sans", sans-serif' font-size="23.20" fill="#000">40</text>
<text x="363.91" y="1163.40" text-anchor="start" font-family='"Liberation Sans", sans-serif' font-size="23.20" fill="#000">30</text>
<text x="409.81" y="1163.40" text-anchor="start" font-family='"Liberation Sans", sans-serif' font-size="23.20" fill="#000">20</text>
<text x="455.59" y="1163.40" text-anchor="start" font-family='"Liberation Sans", sans-serif' font-size="23.20" fill="#000">10</text>
<text x="508.56" y="1163.40" text-anchor="start" font-family='"Liberation Sans", sans-serif' font-size="23.20" fill="#000">0</text>
<text x="524.67" y="727.95" text-anchor="start" font-family='"Liberation Sans", sans-serif' font-size="23.20" fill="#000">50.0</text>
<text x="525.14" y="802.76" text-anchor="start" font-family='"Liberation Sans", sans-serif' font-size="23.20" fill="#000">40.0</text>
<text x="524.44" y="877.57" text-anchor="start" font-family='"Liberation Sans", sans-serif' font-size="23.20" fill="#000">20.0</text>
<text x="523.86" y="952.38" text-anchor="start" font-family='"Liberation Sans", sans-serif' font-size="23.20" fill="#000">10.0</text>
<text x="524.67" y="1027.19" text-anchor="start" font-family='"Liberation Sans", sans-serif' font-size="23.20" fill="#000">5.0</text>
<text x="524.79" y="1102.00" text-anchor="start" font-family='"Liberation Sans", sans-serif' font-size="23.20" fill="#000">0.0</text>
<text x="144.62" y="1204.80" text-anchor="start" font-family='"Liberation Sans", sans-serif' font-size="35.25" fill="#000">Test Accuracy (%)</text>
<text x="988.32" y="1044.80" text-anchor="start" font-family='"Liberation Sans", sans-serif' font-size="23.50" fill="#000">LEA - Simple</text>
<text x="988.32" y="1077.90" text-anchor="start" font-family='"Liberation Sans", sans-serif' font-size="23.50" fill="#000">MAO</text>
<text x="989.03" y="1111.00" text-anchor="start" font-family='"Liberation Sans", sans-serif' font-size="23.50" fill="#000">CM</text>
<text x="679.36" y="1163.40" text-anchor="start" font-family='"Liberation Sans", sans-serif' font-size="23.20" fill="#000">0</text>
<text x="718.95" y="1163.40" text-anchor="start" font-family='"Liberation Sans", sans-serif' font-size="23.20" fill="#000">50</text>
<text x="758.18" y="1163.40" text-anchor="start" font-family='"Liberation Sans", sans-serif' font-size="23.20" fill="#000">100</text>
<text x="804.26" y="1163.40" text-anchor="start" font-family='"Liberation Sans", sans-serif' font-size="23.20" fill="#000">150</text>
<text x="850.63" y="1163.40" text-anchor="start" font-family='"Liberation Sans", sans-serif' font-size="23.20" fill="#000">200</text>
<text x="896.71" y="1163.40" text-anchor="start" font-family='"Liberation Sans", sans-serif' font-size="23.20" fill="#000">250</text>
<text x="942.97" y="1163.40" text-anchor="start" font-family='"Liberation Sans", sans-serif' font-size="23.20" fill="#000">300</text>
<text x="989.05" y="1163.40" text-anchor="start" font-family='"Liberation Sans", sans-serif' font-size="23.20" fill="#000">350</text>
<text x="1035.30" y="1163.40" text-anchor="start" font-family='"Liberation Sans", sans-serif' font-size="23.20" fill="#000">400</text>
<text x="1081.38" y="1163.40" text-anchor="start" font-family='"Liberation Sans", sans-serif' font-size="23.20" fill="#000">450</text>
<text x="1127.23" y="1163.40" text-anchor="start" font-family='"Liberation Sans", sans-serif' font-size="23.20" fill="#000">500</text>
<text x="629.49" y="727.95" text-anchor="start" font-family='"Liberation Sans", sans-serif' font-size="23.20" fill="#000">50.0</text>
<text x="629.49" y="802.76" text-anchor="start" font-family='"Liberation Sans", sans-serif' font-size="23.20" fill="#000">40.0</text>
<text x="629.49" y="877.57" text-anchor="start" font-family='"Liberation Sans", sans-serif' font-size="23.20" fill="#000">20.0</text>
<text x="629.49" y="952.38" text-anchor="start" font-family='"Liberation Sans", sans-serif' font-size="23.20" fill="#000">10.0</text>
<text x="642.36" y="1027.19" text-anchor="start" font-family='"Liberation Sans", sans-serif' font-size="23.20" fill="#000">5.0</text>
<text x="642.36" y="1102.00" text-anchor="start" font-family='"Liberation Sans", sans-serif' font-size="23.20" fill="#000">0.0</text>
<text x="771.45" y="1204.80" text-anchor="start" font-family='"Liberation Sans", sans-serif' font-size="35.25" fill="#000">Mapping Error (%)</text>
<text transform="translate(607.60 1074.78) rotate(-90)" font-family='"Liberation Sans", sans-serif' font-size="35.12" fill="#000">Stuck percentage (%)</text>
<text x="35.12" y="1788.90" text-anchor="start" font-family='"Liberation Sans", sans-serif' font-size="23.20" fill="#000">100</text>
<text x="87.38" y="1788.90" text-anchor="start" font-family='"Liberation Sans", sans-serif' font-size="23.20" fill="#000">90</text>
<text x="133.51" y="1788.90" text-anchor="start" font-family='"Liberation Sans", sans-serif' font-size="23.20" fill="#000">80</text>
<text x="179.46" y="1788.90" text-anchor="start" font-family='"Liberation Sans", sans-serif' font-size="23.20" fill="#000">70</text>
<text x="225.53" y="1788.90" text-anchor="start" font-family='"Liberation Sans", sans-serif' font-size="23.20" fill="#000">60</text>
<text x="271.72" y="1788.90" text-anchor="start" font-family='"Liberation Sans", sans-serif' font-size="23.20" fill="#000">50</text>
<text x="318.02" y="1788.90" text-anchor="start" font-family='"Liberation Sans", sans-serif' font-size="23.20" fill="#000">40</text>
<text x="363.91" y="1788.90" text-anchor="start" font-family='"Liberation Sans", sans-serif' font-size="23.20" fill="#000">30</text>
<text x="409.81" y="1788.90" text-anchor="start" font-family='"Liberation Sans", sans-serif' font-size="23.20" fill="#000">20</text>
<text x="455.59" y="1788.90" text-anchor="start" font-family='"Liberation Sans", sans-serif' font-size="23.20" fill="#000">10</text>
<text x="508.56" y="1788.90" text-anchor="start" font-family='"Liberation Sans", sans-serif' font-size="23.20" fill="#000">0</text>
<text x="524.67" y="1354.35" text-anchor="start" font-family='"Liberation Sans", sans-serif' font-size="23.20" fill="#000">50.0</text>
<text x="525.14" y="1429.07" text-anchor="start" font-family='"Liberation Sans", sans-serif' font-size="23.20" fill="#000">40.0</text>
<text x="524.44" y="1503.79" text-anchor="start" font-family='"Liberation Sans", sans-serif' font-size="23.20" fill="#000">20.0</text>
<text x="523.86" y="1578.51" text-anchor="start" font-family='"Liberation Sans", sans-serif' font-size="23.20" fill="#000">10.0</text>
<text x="524.67" y="1653.23" text-anchor="start" font-family='"Liberation Sans", sans-serif' font-size="23.20" fill="#000">5.0</text>
<text x="524.79" y="1727.95" text-anchor="start" font-family='"Liberation Sans", sans-serif' font-size="23.20" fill="#000">0.0</text>
<text x="144.62" y="1830.30" text-anchor="start" font-family='"Liberation Sans", sans-serif' font-size="35.25" fill="#000">Test Accuracy (%)</text>
<text x="679.36" y="1788.90" text-anchor="start" font-family='"Liberation Sans", sans-serif' font-size="23.20" fill="#000">0</text>
<text x="718.95" y="1788.90" text-anchor="start" font-family='"Liberation Sans", sans-serif' font-size="23.20" fill="#000">50</text>
<text x="758.18" y="1788.90" text-anchor="start" font-family='"Liberation Sans", sans-serif' font-size="23.20" fill="#000">100</text>
<text x="804.26" y="1788.90" text-anchor="start" font-family='"Liberation Sans", sans-serif' font-size="23.20" fill="#000">150</text>
<text x="850.63" y="1788.90" text-anchor="start" font-family='"Liberation Sans", sans-serif' font-size="23.20" fill="#000">200</text>
<text x="896.71" y="1788.90" text-anchor="start" font-family='"Liberation Sans", sans-serif' font-size="23.20" fill="#000">250</text>
<text x="942.97" y="1788.90" text-anchor="start" font-family='"Liberation Sans", sans-serif' font-size="23.20" fill="#000">300</text>
<text x="989.05" y="1788.90" text-anchor="start" font-family='"Liberation Sans", sans-serif' font-size="23.20" fill="#000">350</text>
<text x="1035.30" y="1788.90" text-anchor="start" font-family='"Liberation Sans", sans-serif' font-size="23.20" fill="#000">400</text>
<text x="1081.38" y="1788.90" text-anchor="start" font-family='"Liberation Sans", sans-serif' font-size="23.20" fill="#000">450</text>
<text x="1127.23" y="1788.90" text-anchor="start" font-family='"Liberation Sans", sans-serif' font-size="23.20" fill="#000">500</text>
<text x="629.49" y="1354.35" text-anchor="start" font-family='"Liberation Sans", sans-serif' font-size="23.20" fill="#000">50.0</text>
<text x="629.49" y="1429.07" text-anchor="start" font-family='"Liberation Sans", sans-serif' font-size="23.20" fill="#000">40.0</text>
<text x="629.49" y="1503.79" text-anchor="start" font-family='"Liberation Sans", sans-serif' font-size="23.20" fill="#000">20.0</text>
<text x="629.49" y="1578.51" text-anchor="start" font-family='"Liberation Sans", sans-serif' font-size="23.20" fill="#000">10.0</text>
<text x="642.36" y="1653.23" text-anchor="start" font-family='"Liberation Sans", sans-serif' font-size="23.20" fill="#000">5.0</text>
<text x="642.36" y="1727.95" text-anchor="start" font-family='"Liberation Sans", sans-serif' font-size="23.20" fill="#000">0.0</text>
<text x="771.45" y="1830.30" text-anchor="start" font-family='"Liberation Sans", sans-serif' font-size="35.25" fill="#000">Mapping Error (%)</text>
<text transform="translate(607.60 1701.18) rotate(-90)" font-family='"Liberation Sans", sans-serif' font-size="35.12" fill="#000">Stuck percentage (%)</text>
<text x="35.12" y="2415.20" text-anchor="start" font-family='"Liberation Sans", sans-serif' font-size="23.20" fill="#000">100</text>
<text x="87.38" y="2415.20" text-anchor="start" font-family='"Liberation Sans", sans-serif' font-size="23.20" fill="#000">90</text>
<text x="133.51" y="2415.20" text-anchor="start" font-family='"Liberation Sans", sans-serif' font-size="23.20" fill="#000">80</text>
<text x="179.46" y="2415.20" text-anchor="start" font-family='"Liberation Sans", sans-serif' font-size="23.20" fill="#000">70</text>
<text x="225.53" y="2415.20" text-anchor="start" font-family='"Liberation Sans", sans-serif' font-size="23.20" fill="#000">60</text>
<text x="271.72" y="2415.20" text-anchor="start" font-family='"Liberation Sans", sans-serif' font-size="23.20" fill="#000">50</text>
<text x="318.02" y="2415.20" text-anchor="start" font-family='"Liberation Sans", sans-serif' font-size="23.20" fill="#000">40</text>
<text x="363.91" y="2415.20" text-anchor="start" font-family='"Liberation Sans", sans-serif' font-size="23.20" fill="#000">30</text>
<text x="409.81" y="2415.20" text-anchor="start" font-family='"Liberation Sans", sans-serif' font-size="23.20" fill="#000">20</text>
<text x="455.59" y="2415.20" text-anchor="start" font-family='"Liberation Sans", sans-serif' font-size="23.20" fill="#000">10</text>
<text x="508.56" y="2415.20" text-anchor="start" font-family='"Liberation Sans", sans-serif' font-size="23.20" fill="#000">0</text>
<text x="524.67" y="1980.50" text-anchor="start" font-family='"Liberation Sans", sans-serif' font-size="23.20" fill="#000">50.0</text>
<text x="525.14" y="2055.18" text-anchor="start" font-family='"Liberation Sans", sans-serif' font-size="23.20" fill="#000">40.0</text>
<text x="524.44" y="2129.86" text-anchor="start" font-family='"Liberation Sans", sans-serif' font-size="23.20" fill="#000">20.0</text>
<text x="523.86" y="2204.54" text-anchor="start" font-family='"Liberation Sans", sans-serif' font-size="23.20" fill="#000">10.0</text>
<text x="524.67" y="2279.22" text-anchor="start" font-family='"Liberation Sans", sans-serif' font-size="23.20" fill="#000">5.0</text>
<text x="524.79" y="2353.90" text-anchor="start" font-family='"Liberation Sans", sans-serif' font-size="23.20" fill="#000">0.0</text>
<text x="144.62" y="2456.60" text-anchor="start" font-family='"Liberation Sans", sans-serif' font-size="35.25" fill="#000">Test Accuracy (%)</text>
<text x="679.36" y="2415.20" text-anchor="start" font-family='"Liberation Sans", sans-serif' font-size="23.20" fill="#000">0</text>
<text x="718.95" y="2415.20" text-anchor="start" font-family='"Liberation Sans", sans-serif' font-size="23.20" fill="#000">50</text>
<text x="758.18" y="2415.20" text-anchor="start" font-family='"Liberation Sans", sans-serif' font-size="23.20" fill="#000">100</text>
<text x="804.26" y="2415.20" text-anchor="start" font-family='"Liberation Sans", sans-serif' font-size="23.20" fill="#000">150</text>
<text x="850.63" y="2415.20" text-anchor="start" font-family='"Liberation Sans", sans-serif' font-size="23.20" fill="#000">200</text>
<text x="896.71" y="2415.20" text-anchor="start" font-family='"Liberation Sans", sans-serif' font-size="23.20" fill="#000">250</text>
<text x="942.97" y="2415.20" text-anchor="start" font-family='"Liberation Sans", sans-serif' font-size="23.20" fill="#000">300</text>
<text x="989.05" y="2415.20" text-anchor="start" font-family='"Liberation Sans", sans-serif' font-size="23.20" fill="#000">350</text>
<text x="1035.30" y="2415.20" text-anchor="start" font-family='"Liberation Sans", sans-serif' font-size="23.20" fill="#000">400</text>
<text x="1081.38" y="2415.20" text-anchor="start" font-family='"Liberation Sans", sans-serif' font-size="23.20" fill="#000">450</text>
<text x="1127.23" y="2415.20" text-anchor="start" font-family='"Liberation Sans", sans-serif' font-size="23.20" fill="#000">500</text>
<text x="629.49" y="1980.50" text-anchor="start" font-family='"Liberation Sans", sans-serif' font-size="23.20" fill="#000">50.0</text>
<text x="629.49" y="2055.18" text-anchor="start" font-family='"Liberation Sans", sans-serif' font-size="23.20" fill="#000">40.0</text>
<text x="629.49" y="2129.86" text-anchor="start" font-family='"Liberation Sans", sans-serif' font-size="23.20" fill="#000">20.0</text>
<text x="629.49" y="2204.54" text-anchor="start" font-family='"Liberation Sans", sans-serif' font-size="23.20" fill="#000">10.0</text>
<text x="642.36" y="2279.22" text-anchor="start" font-family='"Liberation Sans", sans-serif' font-size="23.20" fill="#000">5.0</text>
<text x="642.36" y="2353.90" text-anchor="start" font-family='"Liberation Sans", sans-serif' font-size="23.20" fill="#000">0.0</text>
<text x="771.45" y="2456.60" text-anchor="start" font-family='"Liberation Sans", sans-serif' font-size="35.25" fill="#000">Mapping Error (%)</text>
<text transform="translate(607.60 2327.28) rotate(-90)" font-family='"Liberation Sans", sans-serif' font-size="35.12" fill="#000">Stuck percentage (%)</text>
</g>
</svg>
</body></html>
